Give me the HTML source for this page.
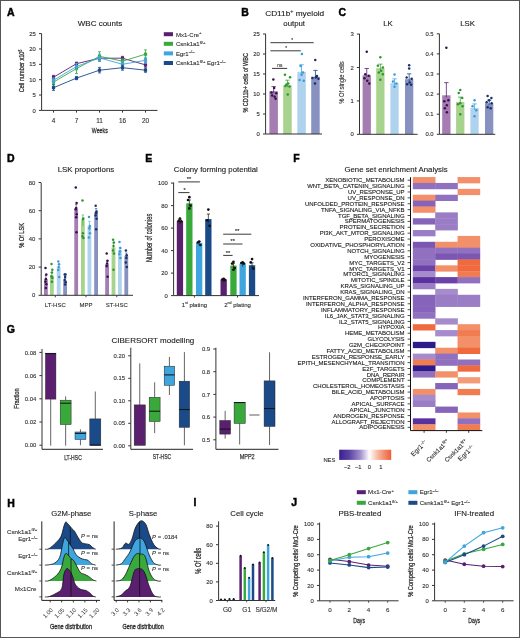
<!DOCTYPE html>
<html><head><meta charset="utf-8"><style>
html,body{margin:0;padding:0;background:#fff;}
svg{display:block;will-change:transform;}
text{font-family:"Liberation Sans", sans-serif;}
</style></head><body>
<svg width="520" height="638" viewBox="0 0 520 638">
<rect x="0" y="0" width="520" height="638" fill="#fff"/>
<text x="7" y="16.3" font-size="10.5" text-anchor="start" font-weight="bold" fill="#000" stroke="#000" stroke-width="0.45">A</text>
<text x="100" y="26.3" font-size="8" text-anchor="middle" font-weight="normal" fill="#222222" stroke="#222222" stroke-width="0.12">WBC counts</text>
<line x1="41.6" y1="33.6" x2="41.6" y2="110.4" stroke="#333333" stroke-width="1"/>
<line x1="39.0" y1="110.4" x2="41.6" y2="110.4" stroke="#333333" stroke-width="1"/>
<text x="35.8" y="112.524" font-size="5.9" text-anchor="end" font-weight="normal" fill="#333333" stroke="#333333" stroke-width="0.12">0</text>
<line x1="39.0" y1="95.04" x2="41.6" y2="95.04" stroke="#333333" stroke-width="1"/>
<text x="35.8" y="97.164" font-size="5.9" text-anchor="end" font-weight="normal" fill="#333333" stroke="#333333" stroke-width="0.12">5</text>
<line x1="39.0" y1="79.68" x2="41.6" y2="79.68" stroke="#333333" stroke-width="1"/>
<text x="35.8" y="81.804" font-size="5.9" text-anchor="end" font-weight="normal" fill="#333333" stroke="#333333" stroke-width="0.12">10</text>
<line x1="39.0" y1="64.32" x2="41.6" y2="64.32" stroke="#333333" stroke-width="1"/>
<text x="35.8" y="66.44399999999999" font-size="5.9" text-anchor="end" font-weight="normal" fill="#333333" stroke="#333333" stroke-width="0.12">15</text>
<line x1="39.0" y1="48.959999999999994" x2="41.6" y2="48.959999999999994" stroke="#333333" stroke-width="1"/>
<text x="35.8" y="51.083999999999996" font-size="5.9" text-anchor="end" font-weight="normal" fill="#333333" stroke="#333333" stroke-width="0.12">20</text>
<line x1="39.0" y1="33.599999999999994" x2="41.6" y2="33.599999999999994" stroke="#333333" stroke-width="1"/>
<text x="35.8" y="35.724" font-size="5.9" text-anchor="end" font-weight="normal" fill="#333333" stroke="#333333" stroke-width="0.12">25</text>
<line x1="41.6" y1="110.4" x2="157.5" y2="110.4" stroke="#333333" stroke-width="1"/>
<line x1="53.5" y1="110.4" x2="53.5" y2="112.60000000000001" stroke="#333333" stroke-width="1"/>
<text x="53.5" y="122.6" font-size="6.4" text-anchor="middle" font-weight="normal" fill="#333333" stroke="#333333" stroke-width="0.12">4</text>
<line x1="76.5" y1="110.4" x2="76.5" y2="112.60000000000001" stroke="#333333" stroke-width="1"/>
<text x="76.5" y="122.6" font-size="6.4" text-anchor="middle" font-weight="normal" fill="#333333" stroke="#333333" stroke-width="0.12">7</text>
<line x1="99.5" y1="110.4" x2="99.5" y2="112.60000000000001" stroke="#333333" stroke-width="1"/>
<text x="99.5" y="122.6" font-size="6.4" text-anchor="middle" font-weight="normal" fill="#333333" stroke="#333333" stroke-width="0.12">11</text>
<line x1="122.5" y1="110.4" x2="122.5" y2="112.60000000000001" stroke="#333333" stroke-width="1"/>
<text x="122.5" y="122.6" font-size="6.4" text-anchor="middle" font-weight="normal" fill="#333333" stroke="#333333" stroke-width="0.12">16</text>
<line x1="145.5" y1="110.4" x2="145.5" y2="112.60000000000001" stroke="#333333" stroke-width="1"/>
<text x="145.5" y="122.6" font-size="6.4" text-anchor="middle" font-weight="normal" fill="#333333" stroke="#333333" stroke-width="0.12">20</text>
<text x="99.8" y="132.8" font-size="7.4" text-anchor="middle" font-weight="normal" fill="#333" stroke="#333" stroke-width="0.3" textLength="16" lengthAdjust="spacingAndGlyphs">Weeks</text>
<text transform="translate(24.3,71.0) rotate(-90) scale(1.0,1)" x="0" y="0" font-size="8.0" text-anchor="middle" font-weight="normal" fill="#333" textLength="42.5" lengthAdjust="spacingAndGlyphs" stroke="#333" stroke-width="0.3">Cell number x10<tspan font-size="4.8" dy="-2.8">6</tspan></text>
<polyline points="53.5,77.2 76.5,63.7 99.5,58.2 122.5,58.2 145.5,64.9" fill="none" stroke="#5b1f70" stroke-width="0.9"/>
<line x1="53.5" y1="75.3792" x2="53.5" y2="79.06559999999999" stroke="#5b1f70" stroke-width="0.8"/>
<line x1="52.0" y1="75.3792" x2="55.0" y2="75.3792" stroke="#5b1f70" stroke-width="0.8"/>
<line x1="52.0" y1="79.06559999999999" x2="55.0" y2="79.06559999999999" stroke="#5b1f70" stroke-width="0.8"/>
<rect x="51.90" y="75.62" width="3.20" height="3.20" fill="#5b1f70" stroke="none" stroke-width="0"/>
<line x1="76.5" y1="62.169599999999996" x2="76.5" y2="65.24159999999999" stroke="#5b1f70" stroke-width="0.8"/>
<line x1="75.0" y1="62.169599999999996" x2="78.0" y2="62.169599999999996" stroke="#5b1f70" stroke-width="0.8"/>
<line x1="75.0" y1="65.24159999999999" x2="78.0" y2="65.24159999999999" stroke="#5b1f70" stroke-width="0.8"/>
<rect x="74.90" y="62.11" width="3.20" height="3.20" fill="#5b1f70" stroke="none" stroke-width="0"/>
<line x1="99.5" y1="55.411199999999994" x2="99.5" y2="60.940799999999996" stroke="#5b1f70" stroke-width="0.8"/>
<line x1="98.0" y1="55.411199999999994" x2="101.0" y2="55.411199999999994" stroke="#5b1f70" stroke-width="0.8"/>
<line x1="98.0" y1="60.940799999999996" x2="101.0" y2="60.940799999999996" stroke="#5b1f70" stroke-width="0.8"/>
<rect x="97.90" y="56.58" width="3.20" height="3.20" fill="#5b1f70" stroke="none" stroke-width="0"/>
<line x1="122.5" y1="56.33279999999999" x2="122.5" y2="60.0192" stroke="#5b1f70" stroke-width="0.8"/>
<line x1="121.0" y1="56.33279999999999" x2="124.0" y2="56.33279999999999" stroke="#5b1f70" stroke-width="0.8"/>
<line x1="121.0" y1="60.0192" x2="124.0" y2="60.0192" stroke="#5b1f70" stroke-width="0.8"/>
<rect x="120.90" y="56.58" width="3.20" height="3.20" fill="#5b1f70" stroke="none" stroke-width="0"/>
<line x1="145.5" y1="62.784" x2="145.5" y2="67.0848" stroke="#5b1f70" stroke-width="0.8"/>
<line x1="144.0" y1="62.784" x2="147.0" y2="62.784" stroke="#5b1f70" stroke-width="0.8"/>
<line x1="144.0" y1="67.0848" x2="147.0" y2="67.0848" stroke="#5b1f70" stroke-width="0.8"/>
<rect x="143.90" y="63.33" width="3.20" height="3.20" fill="#5b1f70" stroke="none" stroke-width="0"/>
<polyline points="53.5,82.1 76.5,68.6 99.5,56.3 122.5,61.2 145.5,54.2" fill="none" stroke="#39a93c" stroke-width="0.9"/>
<line x1="53.5" y1="79.68" x2="53.5" y2="84.5952" stroke="#39a93c" stroke-width="0.8"/>
<line x1="52.0" y1="79.68" x2="55.0" y2="79.68" stroke="#39a93c" stroke-width="0.8"/>
<line x1="52.0" y1="84.5952" x2="55.0" y2="84.5952" stroke="#39a93c" stroke-width="0.8"/>
<rect x="51.90" y="80.54" width="3.20" height="3.20" fill="#39a93c" stroke="none" stroke-width="0"/>
<line x1="76.5" y1="63.705600000000004" x2="76.5" y2="73.536" stroke="#39a93c" stroke-width="0.8"/>
<line x1="75.0" y1="63.705600000000004" x2="78.0" y2="63.705600000000004" stroke="#39a93c" stroke-width="0.8"/>
<line x1="75.0" y1="73.536" x2="78.0" y2="73.536" stroke="#39a93c" stroke-width="0.8"/>
<rect x="74.90" y="67.02" width="3.20" height="3.20" fill="#39a93c" stroke="none" stroke-width="0"/>
<line x1="99.5" y1="51.72479999999999" x2="99.5" y2="60.940799999999996" stroke="#39a93c" stroke-width="0.8"/>
<line x1="98.0" y1="51.72479999999999" x2="101.0" y2="51.72479999999999" stroke="#39a93c" stroke-width="0.8"/>
<line x1="98.0" y1="60.940799999999996" x2="101.0" y2="60.940799999999996" stroke="#39a93c" stroke-width="0.8"/>
<rect x="97.90" y="54.73" width="3.20" height="3.20" fill="#39a93c" stroke="none" stroke-width="0"/>
<line x1="122.5" y1="58.7904" x2="122.5" y2="63.7056" stroke="#39a93c" stroke-width="0.8"/>
<line x1="121.0" y1="58.7904" x2="124.0" y2="58.7904" stroke="#39a93c" stroke-width="0.8"/>
<line x1="121.0" y1="63.7056" x2="124.0" y2="63.7056" stroke="#39a93c" stroke-width="0.8"/>
<rect x="120.90" y="59.65" width="3.20" height="3.20" fill="#39a93c" stroke="none" stroke-width="0"/>
<line x1="145.5" y1="49.88159999999999" x2="145.5" y2="58.4832" stroke="#39a93c" stroke-width="0.8"/>
<line x1="144.0" y1="49.88159999999999" x2="147.0" y2="49.88159999999999" stroke="#39a93c" stroke-width="0.8"/>
<line x1="144.0" y1="58.4832" x2="147.0" y2="58.4832" stroke="#39a93c" stroke-width="0.8"/>
<rect x="143.90" y="52.58" width="3.20" height="3.20" fill="#39a93c" stroke="none" stroke-width="0"/>
<polyline points="53.5,80.3 76.5,66.5 99.5,57.9 122.5,64.3 145.5,60.3" fill="none" stroke="#3ea5de" stroke-width="0.9"/>
<line x1="53.5" y1="77.8368" x2="53.5" y2="82.752" stroke="#3ea5de" stroke-width="0.8"/>
<line x1="52.0" y1="77.8368" x2="55.0" y2="77.8368" stroke="#3ea5de" stroke-width="0.8"/>
<line x1="52.0" y1="82.752" x2="55.0" y2="82.752" stroke="#3ea5de" stroke-width="0.8"/>
<rect x="51.90" y="78.69" width="3.20" height="3.20" fill="#3ea5de" stroke="none" stroke-width="0"/>
<line x1="76.5" y1="63.398399999999995" x2="76.5" y2="69.5424" stroke="#3ea5de" stroke-width="0.8"/>
<line x1="75.0" y1="63.398399999999995" x2="78.0" y2="63.398399999999995" stroke="#3ea5de" stroke-width="0.8"/>
<line x1="75.0" y1="69.5424" x2="78.0" y2="69.5424" stroke="#3ea5de" stroke-width="0.8"/>
<rect x="74.90" y="64.87" width="3.20" height="3.20" fill="#3ea5de" stroke="none" stroke-width="0"/>
<line x1="99.5" y1="54.182399999999994" x2="99.5" y2="61.55519999999999" stroke="#3ea5de" stroke-width="0.8"/>
<line x1="98.0" y1="54.182399999999994" x2="101.0" y2="54.182399999999994" stroke="#3ea5de" stroke-width="0.8"/>
<line x1="98.0" y1="61.55519999999999" x2="101.0" y2="61.55519999999999" stroke="#3ea5de" stroke-width="0.8"/>
<rect x="97.90" y="56.27" width="3.20" height="3.20" fill="#3ea5de" stroke="none" stroke-width="0"/>
<line x1="122.5" y1="61.24799999999999" x2="122.5" y2="67.392" stroke="#3ea5de" stroke-width="0.8"/>
<line x1="121.0" y1="61.24799999999999" x2="124.0" y2="61.24799999999999" stroke="#3ea5de" stroke-width="0.8"/>
<line x1="121.0" y1="67.392" x2="124.0" y2="67.392" stroke="#3ea5de" stroke-width="0.8"/>
<rect x="120.90" y="62.72" width="3.20" height="3.20" fill="#3ea5de" stroke="none" stroke-width="0"/>
<line x1="145.5" y1="57.25439999999999" x2="145.5" y2="63.398399999999995" stroke="#3ea5de" stroke-width="0.8"/>
<line x1="144.0" y1="57.25439999999999" x2="147.0" y2="57.25439999999999" stroke="#3ea5de" stroke-width="0.8"/>
<line x1="144.0" y1="63.398399999999995" x2="147.0" y2="63.398399999999995" stroke="#3ea5de" stroke-width="0.8"/>
<rect x="143.90" y="58.73" width="3.20" height="3.20" fill="#3ea5de" stroke="none" stroke-width="0"/>
<polyline points="53.5,87.7 76.5,78.1 99.5,70.2 122.5,67.7 145.5,70.2" fill="none" stroke="#1b4a88" stroke-width="0.9"/>
<line x1="53.5" y1="84.90240000000001" x2="53.5" y2="90.432" stroke="#1b4a88" stroke-width="0.8"/>
<line x1="52.0" y1="84.90240000000001" x2="55.0" y2="84.90240000000001" stroke="#1b4a88" stroke-width="0.8"/>
<line x1="52.0" y1="90.432" x2="55.0" y2="90.432" stroke="#1b4a88" stroke-width="0.8"/>
<rect x="51.90" y="86.07" width="3.20" height="3.20" fill="#1b4a88" stroke="none" stroke-width="0"/>
<line x1="76.5" y1="76.608" x2="76.5" y2="79.68" stroke="#1b4a88" stroke-width="0.8"/>
<line x1="75.0" y1="76.608" x2="78.0" y2="76.608" stroke="#1b4a88" stroke-width="0.8"/>
<line x1="75.0" y1="79.68" x2="78.0" y2="79.68" stroke="#1b4a88" stroke-width="0.8"/>
<rect x="74.90" y="76.54" width="3.20" height="3.20" fill="#1b4a88" stroke="none" stroke-width="0"/>
<line x1="99.5" y1="67.39200000000001" x2="99.5" y2="72.9216" stroke="#1b4a88" stroke-width="0.8"/>
<line x1="98.0" y1="67.39200000000001" x2="101.0" y2="67.39200000000001" stroke="#1b4a88" stroke-width="0.8"/>
<line x1="98.0" y1="72.9216" x2="101.0" y2="72.9216" stroke="#1b4a88" stroke-width="0.8"/>
<rect x="97.90" y="68.56" width="3.20" height="3.20" fill="#1b4a88" stroke="none" stroke-width="0"/>
<line x1="122.5" y1="65.24159999999999" x2="122.5" y2="70.15679999999999" stroke="#1b4a88" stroke-width="0.8"/>
<line x1="121.0" y1="65.24159999999999" x2="124.0" y2="65.24159999999999" stroke="#1b4a88" stroke-width="0.8"/>
<line x1="121.0" y1="70.15679999999999" x2="124.0" y2="70.15679999999999" stroke="#1b4a88" stroke-width="0.8"/>
<rect x="120.90" y="66.10" width="3.20" height="3.20" fill="#1b4a88" stroke="none" stroke-width="0"/>
<line x1="145.5" y1="68.0064" x2="145.5" y2="72.30720000000001" stroke="#1b4a88" stroke-width="0.8"/>
<line x1="144.0" y1="68.0064" x2="147.0" y2="68.0064" stroke="#1b4a88" stroke-width="0.8"/>
<line x1="144.0" y1="72.30720000000001" x2="147.0" y2="72.30720000000001" stroke="#1b4a88" stroke-width="0.8"/>
<rect x="143.90" y="68.56" width="3.20" height="3.20" fill="#1b4a88" stroke="none" stroke-width="0"/>
<rect x="163.80" y="32.20" width="9.20" height="4.00" fill="#5b1f70" stroke="none" stroke-width="0"/>
<text x="176" y="36.5" font-size="6.0" text-anchor="start" font-weight="normal" fill="#333" stroke="#333" stroke-width="0.12">Mx1-Cre<tspan font-size="4.2" dy="-2.3">+</tspan></text>
<rect x="163.80" y="41.80" width="9.20" height="4.00" fill="#39a93c" stroke="none" stroke-width="0"/>
<text x="176" y="46.1" font-size="6.0" text-anchor="start" font-weight="normal" fill="#333" stroke="#333" stroke-width="0.12">Csnk1a1<tspan font-size="4.2" dy="-2.3">fl/+</tspan></text>
<rect x="163.80" y="51.40" width="9.20" height="4.00" fill="#3ea5de" stroke="none" stroke-width="0"/>
<text x="176" y="55.7" font-size="6.0" text-anchor="start" font-weight="normal" fill="#333" stroke="#333" stroke-width="0.12">Egr1<tspan font-size="4.2" dy="-2.3">&#8211;/&#8211;</tspan></text>
<rect x="163.80" y="61.00" width="9.20" height="4.00" fill="#1b4a88" stroke="none" stroke-width="0"/>
<text x="176" y="65.3" font-size="6.0" text-anchor="start" font-weight="normal" fill="#333" stroke="#333" stroke-width="0.12">Csnk1a1<tspan font-size="4.2" dy="-2.3">fl/+</tspan><tspan dy="2.3"> Egr1</tspan><tspan font-size="4.2" dy="-2.3">&#8211;/&#8211;</tspan></text>
<text x="241.3" y="16.3" font-size="10.5" text-anchor="start" font-weight="bold" fill="#000" stroke="#000" stroke-width="0.45">B</text>
<text x="294.7" y="16.3" font-size="7.9" text-anchor="middle" font-weight="normal" fill="#222222" textLength="59" lengthAdjust="spacingAndGlyphs" stroke="#222222" stroke-width="0.12">CD11b<tspan font-size="5.2" dy="-2.8">+</tspan><tspan dy="2.8"> myeloid</tspan></text>
<text x="294.2" y="26.3" font-size="7.8" text-anchor="middle" font-weight="normal" fill="#222222" stroke="#222222" stroke-width="0.12">output</text>
<line x1="265.6" y1="33.8" x2="265.6" y2="134.0" stroke="#333333" stroke-width="1"/>
<line x1="263.0" y1="134.0" x2="265.6" y2="134.0" stroke="#333333" stroke-width="1"/>
<text x="259.8" y="136.124" font-size="5.9" text-anchor="end" font-weight="normal" fill="#333333" stroke="#333333" stroke-width="0.12">0</text>
<line x1="263.0" y1="114.0" x2="265.6" y2="114.0" stroke="#333333" stroke-width="1"/>
<text x="259.8" y="116.124" font-size="5.9" text-anchor="end" font-weight="normal" fill="#333333" stroke="#333333" stroke-width="0.12">5</text>
<line x1="263.0" y1="94.0" x2="265.6" y2="94.0" stroke="#333333" stroke-width="1"/>
<text x="259.8" y="96.124" font-size="5.9" text-anchor="end" font-weight="normal" fill="#333333" stroke="#333333" stroke-width="0.12">10</text>
<line x1="263.0" y1="74.0" x2="265.6" y2="74.0" stroke="#333333" stroke-width="1"/>
<text x="259.8" y="76.124" font-size="5.9" text-anchor="end" font-weight="normal" fill="#333333" stroke="#333333" stroke-width="0.12">15</text>
<line x1="263.0" y1="54.0" x2="265.6" y2="54.0" stroke="#333333" stroke-width="1"/>
<text x="259.8" y="56.124" font-size="5.9" text-anchor="end" font-weight="normal" fill="#333333" stroke="#333333" stroke-width="0.12">20</text>
<line x1="263.0" y1="34.0" x2="265.6" y2="34.0" stroke="#333333" stroke-width="1"/>
<text x="259.8" y="36.124" font-size="5.9" text-anchor="end" font-weight="normal" fill="#333333" stroke="#333333" stroke-width="0.12">25</text>
<text transform="translate(248.4,82.8) rotate(-90) scale(1.0,1)" x="0" y="0" font-size="7.2" text-anchor="middle" font-weight="normal" fill="#333" textLength="59.6" lengthAdjust="spacingAndGlyphs" stroke="#333" stroke-width="0.3">% CD11b+ cells of WBC</text>
<rect x="269.40" y="91.20" width="8.50" height="42.80" fill="#a57db2" stroke="none" stroke-width="0"/>
<line x1="273.65" y1="86.6" x2="273.65" y2="93.2" stroke="#5b1f70" stroke-width="0.8"/>
<line x1="271.45" y1="86.6" x2="275.84999999999997" y2="86.6" stroke="#5b1f70" stroke-width="0.8"/>
<circle cx="273.35" cy="79.60" r="1.25" fill="#35104a"/>
<circle cx="274.15" cy="88.00" r="1.25" fill="#35104a"/>
<circle cx="271.45" cy="92.40" r="1.25" fill="#35104a"/>
<circle cx="276.25" cy="93.20" r="1.25" fill="#35104a"/>
<circle cx="274.65" cy="96.80" r="1.25" fill="#35104a"/>
<circle cx="272.15" cy="95.60" r="1.25" fill="#35104a"/>
<circle cx="275.65" cy="98.80" r="1.25" fill="#35104a"/>
<rect x="283.20" y="85.20" width="8.50" height="48.80" fill="#a8d38e" stroke="none" stroke-width="0"/>
<line x1="287.45" y1="80.2" x2="287.45" y2="87.2" stroke="#39a93c" stroke-width="0.8"/>
<line x1="285.25" y1="80.2" x2="289.65" y2="80.2" stroke="#39a93c" stroke-width="0.8"/>
<circle cx="284.95" cy="74.80" r="1.25" fill="#2f952f"/>
<circle cx="290.05" cy="77.20" r="1.25" fill="#2f952f"/>
<circle cx="286.45" cy="84.40" r="1.25" fill="#2f952f"/>
<circle cx="288.25" cy="83.60" r="1.25" fill="#2f952f"/>
<circle cx="289.45" cy="86.40" r="1.25" fill="#2f952f"/>
<circle cx="285.45" cy="86.00" r="1.25" fill="#2f952f"/>
<circle cx="287.75" cy="94.40" r="1.25" fill="#2f952f"/>
<rect x="297.30" y="71.80" width="8.50" height="62.20" fill="#afd3ee" stroke="none" stroke-width="0"/>
<line x1="301.55" y1="64.8" x2="301.55" y2="73.8" stroke="#3ea5de" stroke-width="0.8"/>
<line x1="299.35" y1="64.8" x2="303.75" y2="64.8" stroke="#3ea5de" stroke-width="0.8"/>
<circle cx="301.85" cy="54.00" r="1.25" fill="#3a9bd6"/>
<circle cx="300.55" cy="66.00" r="1.25" fill="#3a9bd6"/>
<circle cx="303.05" cy="72.40" r="1.25" fill="#3a9bd6"/>
<circle cx="299.55" cy="80.00" r="1.25" fill="#3a9bd6"/>
<circle cx="303.75" cy="80.80" r="1.25" fill="#3a9bd6"/>
<circle cx="301.55" cy="74.80" r="1.25" fill="#3a9bd6"/>
<rect x="311.20" y="76.80" width="8.50" height="57.20" fill="#8892c0" stroke="none" stroke-width="0"/>
<line x1="315.45" y1="70.4" x2="315.45" y2="78.8" stroke="#1b4a88" stroke-width="0.8"/>
<line x1="313.25" y1="70.4" x2="317.65" y2="70.4" stroke="#1b4a88" stroke-width="0.8"/>
<circle cx="315.25" cy="60.00" r="1.25" fill="#182f6a"/>
<circle cx="312.45" cy="78.00" r="1.25" fill="#182f6a"/>
<circle cx="318.45" cy="78.80" r="1.25" fill="#182f6a"/>
<circle cx="315.95" cy="77.20" r="1.25" fill="#182f6a"/>
<circle cx="314.95" cy="83.60" r="1.25" fill="#182f6a"/>
<circle cx="316.95" cy="76.00" r="1.25" fill="#182f6a"/>
<line x1="265.6" y1="134.0" x2="322.0" y2="134.0" stroke="#333333" stroke-width="1"/>
<line x1="270.4" y1="42.7" x2="313.7" y2="42.7" stroke="#3a3a3a" stroke-width="1.0"/>
<text x="292.2" y="41.5" font-size="4.8" text-anchor="middle" font-weight="normal" fill="#333" stroke="#333" stroke-width="0.12">*</text>
<line x1="270.4" y1="50.8" x2="300.8" y2="50.8" stroke="#3a3a3a" stroke-width="1.0"/>
<text x="286.2" y="49.6" font-size="4.8" text-anchor="middle" font-weight="normal" fill="#333" stroke="#333" stroke-width="0.12">*</text>
<line x1="272.0" y1="68.4" x2="287.2" y2="68.4" stroke="#3a3a3a" stroke-width="1.0"/>
<text x="279.8" y="66.6" font-size="4.8" text-anchor="middle" font-weight="normal" fill="#333" stroke="#333" stroke-width="0.12">ns</text>
<text x="338.6" y="16.3" font-size="10.5" text-anchor="start" font-weight="bold" fill="#000" stroke="#000" stroke-width="0.45">C</text>
<text x="388.0" y="26.3" font-size="7.8" text-anchor="middle" font-weight="normal" fill="#222222" stroke="#222222" stroke-width="0.12">LK</text>
<text x="467.5" y="26.3" font-size="7.8" text-anchor="middle" font-weight="normal" fill="#222222" stroke="#222222" stroke-width="0.12">LSK</text>
<text transform="translate(344.2,82.6) rotate(-90) scale(1.0,1)" x="0" y="0" font-size="6.4" text-anchor="middle" font-weight="normal" fill="#333" textLength="42.3" lengthAdjust="spacingAndGlyphs" stroke="#333" stroke-width="0.12">% Of single cells</text>
<line x1="359.5" y1="33.8" x2="359.5" y2="134.3" stroke="#333333" stroke-width="1"/>
<line x1="356.9" y1="134.3" x2="359.5" y2="134.3" stroke="#333333" stroke-width="1"/>
<text x="353.7" y="136.424" font-size="5.9" text-anchor="end" font-weight="normal" fill="#333333" stroke="#333333" stroke-width="0.12">0</text>
<line x1="356.9" y1="100.9" x2="359.5" y2="100.9" stroke="#333333" stroke-width="1"/>
<text x="353.7" y="103.024" font-size="5.9" text-anchor="end" font-weight="normal" fill="#333333" stroke="#333333" stroke-width="0.12">1</text>
<line x1="356.9" y1="67.50000000000001" x2="359.5" y2="67.50000000000001" stroke="#333333" stroke-width="1"/>
<text x="353.7" y="69.62400000000001" font-size="5.9" text-anchor="end" font-weight="normal" fill="#333333" stroke="#333333" stroke-width="0.12">2</text>
<line x1="356.9" y1="34.10000000000002" x2="359.5" y2="34.10000000000002" stroke="#333333" stroke-width="1"/>
<text x="353.7" y="36.224000000000025" font-size="5.9" text-anchor="end" font-weight="normal" fill="#333333" stroke="#333333" stroke-width="0.12">3</text>
<rect x="362.60" y="75.18" width="8.30" height="59.12" fill="#a57db2" stroke="none" stroke-width="0"/>
<line x1="366.75" y1="68.50200000000001" x2="366.75" y2="77.18200000000002" stroke="#5b1f70" stroke-width="0.8"/>
<line x1="364.55" y1="68.50200000000001" x2="368.95" y2="68.50200000000001" stroke="#5b1f70" stroke-width="0.8"/>
<circle cx="366.75" cy="51.80" r="1.25" fill="#35104a"/>
<circle cx="365.25" cy="74.18" r="1.25" fill="#35104a"/>
<circle cx="368.75" cy="75.85" r="1.25" fill="#35104a"/>
<circle cx="367.25" cy="80.86" r="1.25" fill="#35104a"/>
<circle cx="364.45" cy="78.19" r="1.25" fill="#35104a"/>
<circle cx="369.25" cy="83.53" r="1.25" fill="#35104a"/>
<rect x="376.20" y="68.17" width="8.30" height="66.13" fill="#a8d38e" stroke="none" stroke-width="0"/>
<line x1="380.34999999999997" y1="64.16000000000001" x2="380.34999999999997" y2="70.16800000000002" stroke="#39a93c" stroke-width="0.8"/>
<line x1="378.15" y1="64.16000000000001" x2="382.54999999999995" y2="64.16000000000001" stroke="#39a93c" stroke-width="0.8"/>
<circle cx="380.35" cy="57.15" r="1.25" fill="#2f952f"/>
<circle cx="377.85" cy="65.83" r="1.25" fill="#2f952f"/>
<circle cx="382.85" cy="67.50" r="1.25" fill="#2f952f"/>
<circle cx="381.15" cy="70.84" r="1.25" fill="#2f952f"/>
<circle cx="378.85" cy="72.51" r="1.25" fill="#2f952f"/>
<circle cx="382.85" cy="74.18" r="1.25" fill="#2f952f"/>
<circle cx="380.35" cy="79.86" r="1.25" fill="#2f952f"/>
<rect x="390.40" y="83.20" width="8.30" height="51.10" fill="#afd3ee" stroke="none" stroke-width="0"/>
<line x1="394.54999999999995" y1="78.85600000000001" x2="394.54999999999995" y2="85.19800000000001" stroke="#3ea5de" stroke-width="0.8"/>
<line x1="392.34999999999997" y1="78.85600000000001" x2="396.74999999999994" y2="78.85600000000001" stroke="#3ea5de" stroke-width="0.8"/>
<circle cx="394.55" cy="74.51" r="1.25" fill="#3a9bd6"/>
<circle cx="392.95" cy="81.53" r="1.25" fill="#3a9bd6"/>
<circle cx="396.35" cy="83.53" r="1.25" fill="#3a9bd6"/>
<circle cx="394.55" cy="86.87" r="1.25" fill="#3a9bd6"/>
<rect x="405.00" y="79.19" width="8.30" height="55.11" fill="#8892c0" stroke="none" stroke-width="0"/>
<line x1="409.15" y1="73.84600000000002" x2="409.15" y2="81.19000000000003" stroke="#1b4a88" stroke-width="0.8"/>
<line x1="406.95" y1="73.84600000000002" x2="411.34999999999997" y2="73.84600000000002" stroke="#1b4a88" stroke-width="0.8"/>
<circle cx="409.15" cy="65.16" r="1.25" fill="#182f6a"/>
<circle cx="409.15" cy="68.50" r="1.25" fill="#182f6a"/>
<circle cx="406.65" cy="77.52" r="1.25" fill="#182f6a"/>
<circle cx="411.65" cy="78.86" r="1.25" fill="#182f6a"/>
<circle cx="409.65" cy="82.53" r="1.25" fill="#182f6a"/>
<circle cx="407.15" cy="84.20" r="1.25" fill="#182f6a"/>
<circle cx="411.15" cy="84.87" r="1.25" fill="#182f6a"/>
<line x1="359.5" y1="134.3" x2="417.6" y2="134.3" stroke="#333333" stroke-width="1"/>
<line x1="439.4" y1="33.8" x2="439.4" y2="134.3" stroke="#333333" stroke-width="1"/>
<line x1="436.79999999999995" y1="134.3" x2="439.4" y2="134.3" stroke="#333333" stroke-width="1"/>
<text x="433.59999999999997" y="136.424" font-size="5.9" text-anchor="end" font-weight="normal" fill="#333333" stroke="#333333" stroke-width="0.12">0.0</text>
<line x1="436.79999999999995" y1="114.20000000000002" x2="439.4" y2="114.20000000000002" stroke="#333333" stroke-width="1"/>
<text x="433.59999999999997" y="116.32400000000001" font-size="5.9" text-anchor="end" font-weight="normal" fill="#333333" stroke="#333333" stroke-width="0.12">0.1</text>
<line x1="436.79999999999995" y1="94.10000000000001" x2="439.4" y2="94.10000000000001" stroke="#333333" stroke-width="1"/>
<text x="433.59999999999997" y="96.224" font-size="5.9" text-anchor="end" font-weight="normal" fill="#333333" stroke="#333333" stroke-width="0.12">0.2</text>
<line x1="436.79999999999995" y1="74.00000000000001" x2="439.4" y2="74.00000000000001" stroke="#333333" stroke-width="1"/>
<text x="433.59999999999997" y="76.12400000000001" font-size="5.9" text-anchor="end" font-weight="normal" fill="#333333" stroke="#333333" stroke-width="0.12">0.3</text>
<line x1="436.79999999999995" y1="53.900000000000006" x2="439.4" y2="53.900000000000006" stroke="#333333" stroke-width="1"/>
<text x="433.59999999999997" y="56.02400000000001" font-size="5.9" text-anchor="end" font-weight="normal" fill="#333333" stroke="#333333" stroke-width="0.12">0.4</text>
<line x1="436.79999999999995" y1="33.80000000000001" x2="439.4" y2="33.80000000000001" stroke="#333333" stroke-width="1"/>
<text x="433.59999999999997" y="35.924000000000014" font-size="5.9" text-anchor="end" font-weight="normal" fill="#333333" stroke="#333333" stroke-width="0.12">0.5</text>
<rect x="442.20" y="95.31" width="8.30" height="38.99" fill="#a57db2" stroke="none" stroke-width="0"/>
<line x1="446.34999999999997" y1="82.643" x2="446.34999999999997" y2="97.30600000000001" stroke="#5b1f70" stroke-width="0.8"/>
<line x1="444.15" y1="82.643" x2="448.54999999999995" y2="82.643" stroke="#5b1f70" stroke-width="0.8"/>
<circle cx="446.35" cy="47.87" r="1.25" fill="#35104a"/>
<circle cx="444.35" cy="101.14" r="1.25" fill="#35104a"/>
<circle cx="448.35" cy="100.13" r="1.25" fill="#35104a"/>
<circle cx="446.85" cy="105.16" r="1.25" fill="#35104a"/>
<circle cx="444.85" cy="108.17" r="1.25" fill="#35104a"/>
<circle cx="446.85" cy="112.19" r="1.25" fill="#35104a"/>
<rect x="456.10" y="101.94" width="8.30" height="32.36" fill="#a8d38e" stroke="none" stroke-width="0"/>
<line x1="460.25" y1="97.11500000000001" x2="460.25" y2="103.93900000000001" stroke="#39a93c" stroke-width="0.8"/>
<line x1="458.05" y1="97.11500000000001" x2="462.45" y2="97.11500000000001" stroke="#39a93c" stroke-width="0.8"/>
<circle cx="460.25" cy="90.08" r="1.25" fill="#2f952f"/>
<circle cx="458.75" cy="93.10" r="1.25" fill="#2f952f"/>
<circle cx="462.25" cy="98.12" r="1.25" fill="#2f952f"/>
<circle cx="460.25" cy="103.15" r="1.25" fill="#2f952f"/>
<circle cx="457.95" cy="104.15" r="1.25" fill="#2f952f"/>
<circle cx="462.55" cy="106.16" r="1.25" fill="#2f952f"/>
<circle cx="460.25" cy="114.20" r="1.25" fill="#2f952f"/>
<rect x="470.40" y="107.97" width="8.30" height="26.33" fill="#afd3ee" stroke="none" stroke-width="0"/>
<line x1="474.54999999999995" y1="103.94900000000001" x2="474.54999999999995" y2="109.96900000000001" stroke="#3ea5de" stroke-width="0.8"/>
<line x1="472.34999999999997" y1="103.94900000000001" x2="476.74999999999994" y2="103.94900000000001" stroke="#3ea5de" stroke-width="0.8"/>
<circle cx="474.55" cy="100.13" r="1.25" fill="#3a9bd6"/>
<circle cx="472.55" cy="106.16" r="1.25" fill="#3a9bd6"/>
<circle cx="476.35" cy="110.18" r="1.25" fill="#3a9bd6"/>
<circle cx="474.55" cy="116.21" r="1.25" fill="#3a9bd6"/>
<rect x="485.00" y="103.35" width="8.30" height="30.95" fill="#8892c0" stroke="none" stroke-width="0"/>
<line x1="489.15" y1="100.13000000000002" x2="489.15" y2="105.346" stroke="#1b4a88" stroke-width="0.8"/>
<line x1="486.95" y1="100.13000000000002" x2="491.34999999999997" y2="100.13000000000002" stroke="#1b4a88" stroke-width="0.8"/>
<circle cx="487.65" cy="96.11" r="1.25" fill="#182f6a"/>
<circle cx="491.35" cy="98.12" r="1.25" fill="#182f6a"/>
<circle cx="489.15" cy="100.13" r="1.25" fill="#182f6a"/>
<circle cx="486.65" cy="102.14" r="1.25" fill="#182f6a"/>
<circle cx="491.65" cy="103.15" r="1.25" fill="#182f6a"/>
<circle cx="487.65" cy="107.17" r="1.25" fill="#182f6a"/>
<circle cx="490.65" cy="108.17" r="1.25" fill="#182f6a"/>
<line x1="439.4" y1="134.3" x2="495.3" y2="134.3" stroke="#333333" stroke-width="1"/>
<text x="7" y="162.3" font-size="10.5" text-anchor="start" font-weight="bold" fill="#000" stroke="#000" stroke-width="0.45">D</text>
<text x="86.0" y="171.5" font-size="7.9" text-anchor="middle" font-weight="normal" fill="#222222" stroke="#222222" stroke-width="0.12">LSK proportions</text>
<line x1="41.2" y1="183.0" x2="41.2" y2="295.3" stroke="#333333" stroke-width="1"/>
<line x1="38.6" y1="295.3" x2="41.2" y2="295.3" stroke="#333333" stroke-width="1"/>
<text x="35.4" y="297.42400000000004" font-size="5.9" text-anchor="end" font-weight="normal" fill="#333333" stroke="#333333" stroke-width="0.12">0</text>
<line x1="38.6" y1="267.1" x2="41.2" y2="267.1" stroke="#333333" stroke-width="1"/>
<text x="35.4" y="269.22400000000005" font-size="5.9" text-anchor="end" font-weight="normal" fill="#333333" stroke="#333333" stroke-width="0.12">20</text>
<line x1="38.6" y1="238.9" x2="41.2" y2="238.9" stroke="#333333" stroke-width="1"/>
<text x="35.4" y="241.024" font-size="5.9" text-anchor="end" font-weight="normal" fill="#333333" stroke="#333333" stroke-width="0.12">40</text>
<line x1="38.6" y1="210.70000000000002" x2="41.2" y2="210.70000000000002" stroke="#333333" stroke-width="1"/>
<text x="35.4" y="212.824" font-size="5.9" text-anchor="end" font-weight="normal" fill="#333333" stroke="#333333" stroke-width="0.12">60</text>
<line x1="38.6" y1="182.5" x2="41.2" y2="182.5" stroke="#333333" stroke-width="1"/>
<text x="35.4" y="184.624" font-size="5.9" text-anchor="end" font-weight="normal" fill="#333333" stroke="#333333" stroke-width="0.12">80</text>
<text transform="translate(23.9,235.4) rotate(-90) scale(1.0,1)" x="0" y="0" font-size="7.2" text-anchor="middle" font-weight="normal" fill="#333" textLength="24.8" lengthAdjust="spacingAndGlyphs" stroke="#333" stroke-width="0.3">% Of LSK</text>
<rect x="44.00" y="279.09" width="3.80" height="16.21" fill="#a57db2" stroke="none" stroke-width="0"/>
<line x1="45.9" y1="275.56" x2="45.9" y2="282.61" stroke="#5b1f70" stroke-width="0.6"/>
<line x1="44.699999999999996" y1="275.56" x2="47.1" y2="275.56" stroke="#5b1f70" stroke-width="0.6"/>
<circle cx="45.50" cy="267.95" r="1.25" fill="#35104a"/>
<circle cx="46.30" cy="274.43" r="1.25" fill="#35104a"/>
<circle cx="45.90" cy="278.94" r="1.25" fill="#35104a"/>
<circle cx="45.40" cy="281.76" r="1.25" fill="#35104a"/>
<circle cx="46.40" cy="284.16" r="1.25" fill="#35104a"/>
<circle cx="45.90" cy="288.11" r="1.25" fill="#35104a"/>
<rect x="50.00" y="275.56" width="3.80" height="19.74" fill="#a8d38e" stroke="none" stroke-width="0"/>
<line x1="51.9" y1="272.74" x2="51.9" y2="278.38" stroke="#39a93c" stroke-width="0.6"/>
<line x1="50.699999999999996" y1="272.74" x2="53.1" y2="272.74" stroke="#39a93c" stroke-width="0.6"/>
<circle cx="51.50" cy="264.00" r="1.25" fill="#2f952f"/>
<circle cx="52.30" cy="269.78" r="1.25" fill="#2f952f"/>
<circle cx="51.90" cy="272.46" r="1.25" fill="#2f952f"/>
<circle cx="51.40" cy="276.26" r="1.25" fill="#2f952f"/>
<circle cx="52.40" cy="277.96" r="1.25" fill="#2f952f"/>
<circle cx="51.90" cy="281.76" r="1.25" fill="#2f952f"/>
<rect x="56.80" y="267.10" width="3.80" height="28.20" fill="#afd3ee" stroke="none" stroke-width="0"/>
<line x1="58.699999999999996" y1="264.28000000000003" x2="58.699999999999996" y2="269.92" stroke="#3ea5de" stroke-width="0.6"/>
<line x1="57.49999999999999" y1="264.28000000000003" x2="59.9" y2="264.28000000000003" stroke="#3ea5de" stroke-width="0.6"/>
<circle cx="58.30" cy="261.60" r="1.25" fill="#3a9bd6"/>
<circle cx="59.10" cy="264.28" r="1.25" fill="#3a9bd6"/>
<circle cx="58.70" cy="267.10" r="1.25" fill="#3a9bd6"/>
<circle cx="58.20" cy="270.06" r="1.25" fill="#3a9bd6"/>
<circle cx="59.20" cy="277.11" r="1.25" fill="#3a9bd6"/>
<rect x="63.20" y="280.50" width="3.80" height="14.81" fill="#8892c0" stroke="none" stroke-width="0"/>
<line x1="65.10000000000001" y1="278.38" x2="65.10000000000001" y2="282.61" stroke="#1b4a88" stroke-width="0.6"/>
<line x1="63.900000000000006" y1="278.38" x2="66.30000000000001" y2="278.38" stroke="#1b4a88" stroke-width="0.6"/>
<circle cx="64.70" cy="274.43" r="1.25" fill="#182f6a"/>
<circle cx="65.50" cy="274.43" r="1.25" fill="#182f6a"/>
<circle cx="65.10" cy="277.11" r="1.25" fill="#182f6a"/>
<circle cx="64.60" cy="279.93" r="1.25" fill="#182f6a"/>
<circle cx="65.60" cy="282.19" r="1.25" fill="#182f6a"/>
<circle cx="65.10" cy="284.44" r="1.25" fill="#182f6a"/>
<rect x="74.30" y="208.59" width="3.80" height="86.71" fill="#a57db2" stroke="none" stroke-width="0"/>
<line x1="76.2" y1="204.35500000000002" x2="76.2" y2="212.815" stroke="#5b1f70" stroke-width="0.6"/>
<line x1="75.0" y1="204.35500000000002" x2="77.4" y2="204.35500000000002" stroke="#5b1f70" stroke-width="0.6"/>
<circle cx="75.80" cy="187.58" r="1.25" fill="#35104a"/>
<circle cx="76.60" cy="203.09" r="1.25" fill="#35104a"/>
<circle cx="76.20" cy="208.02" r="1.25" fill="#35104a"/>
<circle cx="75.70" cy="209.15" r="1.25" fill="#35104a"/>
<circle cx="76.70" cy="214.37" r="1.25" fill="#35104a"/>
<circle cx="76.20" cy="217.19" r="1.25" fill="#35104a"/>
<circle cx="76.50" cy="232.27" r="1.25" fill="#35104a"/>
<rect x="81.00" y="220.57" width="3.80" height="74.73" fill="#a8d38e" stroke="none" stroke-width="0"/>
<line x1="82.9" y1="214.93" x2="82.9" y2="226.21000000000004" stroke="#39a93c" stroke-width="0.6"/>
<line x1="81.7" y1="214.93" x2="84.10000000000001" y2="214.93" stroke="#39a93c" stroke-width="0.6"/>
<circle cx="82.50" cy="200.55" r="1.25" fill="#2f952f"/>
<circle cx="83.30" cy="218.46" r="1.25" fill="#2f952f"/>
<circle cx="82.90" cy="219.58" r="1.25" fill="#2f952f"/>
<circle cx="82.40" cy="236.36" r="1.25" fill="#2f952f"/>
<circle cx="83.40" cy="238.05" r="1.25" fill="#2f952f"/>
<circle cx="82.90" cy="233.26" r="1.25" fill="#2f952f"/>
<rect x="87.50" y="226.21" width="3.80" height="69.09" fill="#afd3ee" stroke="none" stroke-width="0"/>
<line x1="89.4" y1="221.27500000000003" x2="89.4" y2="231.145" stroke="#3ea5de" stroke-width="0.6"/>
<line x1="88.2" y1="221.27500000000003" x2="90.60000000000001" y2="221.27500000000003" stroke="#3ea5de" stroke-width="0.6"/>
<circle cx="89.00" cy="216.90" r="1.25" fill="#3a9bd6"/>
<circle cx="89.80" cy="225.93" r="1.25" fill="#3a9bd6"/>
<circle cx="89.40" cy="228.18" r="1.25" fill="#3a9bd6"/>
<circle cx="88.90" cy="237.49" r="1.25" fill="#3a9bd6"/>
<circle cx="89.90" cy="233.26" r="1.25" fill="#3a9bd6"/>
<rect x="94.20" y="212.11" width="3.80" height="83.19" fill="#8892c0" stroke="none" stroke-width="0"/>
<line x1="96.10000000000001" y1="208.58500000000004" x2="96.10000000000001" y2="215.63500000000002" stroke="#1b4a88" stroke-width="0.6"/>
<line x1="94.9" y1="208.58500000000004" x2="97.30000000000001" y2="208.58500000000004" stroke="#1b4a88" stroke-width="0.6"/>
<circle cx="95.70" cy="205.77" r="1.25" fill="#182f6a"/>
<circle cx="96.50" cy="211.41" r="1.25" fill="#182f6a"/>
<circle cx="96.10" cy="213.10" r="1.25" fill="#182f6a"/>
<circle cx="95.60" cy="215.49" r="1.25" fill="#182f6a"/>
<circle cx="96.60" cy="218.74" r="1.25" fill="#182f6a"/>
<circle cx="96.10" cy="229.31" r="1.25" fill="#182f6a"/>
<rect x="105.20" y="264.28" width="3.80" height="31.02" fill="#a57db2" stroke="none" stroke-width="0"/>
<line x1="107.10000000000001" y1="260.755" x2="107.10000000000001" y2="267.805" stroke="#5b1f70" stroke-width="0.6"/>
<line x1="105.9" y1="260.755" x2="108.30000000000001" y2="260.755" stroke="#5b1f70" stroke-width="0.6"/>
<circle cx="106.70" cy="253.42" r="1.25" fill="#35104a"/>
<circle cx="107.50" cy="260.75" r="1.25" fill="#35104a"/>
<circle cx="107.10" cy="263.43" r="1.25" fill="#35104a"/>
<circle cx="106.60" cy="266.11" r="1.25" fill="#35104a"/>
<circle cx="107.60" cy="276.83" r="1.25" fill="#35104a"/>
<rect x="111.60" y="247.36" width="3.80" height="47.94" fill="#a8d38e" stroke="none" stroke-width="0"/>
<line x1="113.5" y1="243.13000000000002" x2="113.5" y2="251.59" stroke="#39a93c" stroke-width="0.6"/>
<line x1="112.3" y1="243.13000000000002" x2="114.7" y2="243.13000000000002" stroke="#39a93c" stroke-width="0.6"/>
<circle cx="113.10" cy="239.75" r="1.25" fill="#2f952f"/>
<circle cx="113.90" cy="242.43" r="1.25" fill="#2f952f"/>
<circle cx="113.50" cy="246.09" r="1.25" fill="#2f952f"/>
<circle cx="113.00" cy="250.60" r="1.25" fill="#2f952f"/>
<circle cx="114.00" cy="253.42" r="1.25" fill="#2f952f"/>
<circle cx="113.50" cy="269.78" r="1.25" fill="#2f952f"/>
<rect x="118.00" y="250.18" width="3.80" height="45.12" fill="#afd3ee" stroke="none" stroke-width="0"/>
<line x1="119.9" y1="247.36" x2="119.9" y2="253.0" stroke="#3ea5de" stroke-width="0.6"/>
<line x1="118.7" y1="247.36" x2="121.10000000000001" y2="247.36" stroke="#3ea5de" stroke-width="0.6"/>
<circle cx="119.50" cy="242.00" r="1.25" fill="#3a9bd6"/>
<circle cx="120.30" cy="247.92" r="1.25" fill="#3a9bd6"/>
<circle cx="119.90" cy="251.45" r="1.25" fill="#3a9bd6"/>
<circle cx="119.40" cy="254.27" r="1.25" fill="#3a9bd6"/>
<circle cx="120.40" cy="257.94" r="1.25" fill="#3a9bd6"/>
<rect x="124.40" y="255.82" width="3.80" height="39.48" fill="#8892c0" stroke="none" stroke-width="0"/>
<line x1="126.30000000000001" y1="253.0" x2="126.30000000000001" y2="258.64" stroke="#1b4a88" stroke-width="0.6"/>
<line x1="125.10000000000001" y1="253.0" x2="127.50000000000001" y2="253.0" stroke="#1b4a88" stroke-width="0.6"/>
<circle cx="125.90" cy="250.60" r="1.25" fill="#182f6a"/>
<circle cx="126.70" cy="255.26" r="1.25" fill="#182f6a"/>
<circle cx="126.30" cy="257.94" r="1.25" fill="#182f6a"/>
<circle cx="125.80" cy="262.45" r="1.25" fill="#182f6a"/>
<circle cx="126.80" cy="267.10" r="1.25" fill="#182f6a"/>
<line x1="41.2" y1="295.3" x2="133.0" y2="295.3" stroke="#333333" stroke-width="1"/>
<line x1="55.3" y1="295.3" x2="55.3" y2="297.3" stroke="#333333" stroke-width="0.9"/>
<text x="55.3" y="306.9" font-size="6.0" text-anchor="middle" font-weight="normal" fill="#333" stroke="#333" stroke-width="0.12">LT-HSC</text>
<line x1="86.0" y1="295.3" x2="86.0" y2="297.3" stroke="#333333" stroke-width="0.9"/>
<text x="86.0" y="306.9" font-size="6.0" text-anchor="middle" font-weight="normal" fill="#333" stroke="#333" stroke-width="0.12">MPP</text>
<line x1="116.8" y1="295.3" x2="116.8" y2="297.3" stroke="#333333" stroke-width="0.9"/>
<text x="116.8" y="306.9" font-size="6.0" text-anchor="middle" font-weight="normal" fill="#333" stroke="#333" stroke-width="0.12">ST-HSC</text>
<text x="145.3" y="162.3" font-size="10.5" text-anchor="start" font-weight="bold" fill="#000" stroke="#000" stroke-width="0.45">E</text>
<text x="215.8" y="172.3" font-size="7.8" text-anchor="middle" font-weight="normal" fill="#222222" stroke="#222222" stroke-width="0.12">Colony forming potential</text>
<line x1="173.6" y1="182.5" x2="173.6" y2="295.6" stroke="#333333" stroke-width="1"/>
<line x1="171.0" y1="295.6" x2="173.6" y2="295.6" stroke="#333333" stroke-width="1"/>
<text x="167.8" y="297.72400000000005" font-size="5.9" text-anchor="end" font-weight="normal" fill="#333333" stroke="#333333" stroke-width="0.12">0</text>
<line x1="171.0" y1="273.1" x2="173.6" y2="273.1" stroke="#333333" stroke-width="1"/>
<text x="167.8" y="275.22400000000005" font-size="5.9" text-anchor="end" font-weight="normal" fill="#333333" stroke="#333333" stroke-width="0.12">20</text>
<line x1="171.0" y1="250.60000000000002" x2="173.6" y2="250.60000000000002" stroke="#333333" stroke-width="1"/>
<text x="167.8" y="252.72400000000002" font-size="5.9" text-anchor="end" font-weight="normal" fill="#333333" stroke="#333333" stroke-width="0.12">40</text>
<line x1="171.0" y1="228.10000000000002" x2="173.6" y2="228.10000000000002" stroke="#333333" stroke-width="1"/>
<text x="167.8" y="230.22400000000002" font-size="5.9" text-anchor="end" font-weight="normal" fill="#333333" stroke="#333333" stroke-width="0.12">60</text>
<line x1="171.0" y1="205.60000000000002" x2="173.6" y2="205.60000000000002" stroke="#333333" stroke-width="1"/>
<text x="167.8" y="207.72400000000002" font-size="5.9" text-anchor="end" font-weight="normal" fill="#333333" stroke="#333333" stroke-width="0.12">80</text>
<line x1="171.0" y1="183.10000000000002" x2="173.6" y2="183.10000000000002" stroke="#333333" stroke-width="1"/>
<text x="167.8" y="185.22400000000002" font-size="5.9" text-anchor="end" font-weight="normal" fill="#333333" stroke="#333333" stroke-width="0.12">100</text>
<text transform="translate(152.4,237.9) rotate(-90) scale(1.0,1)" x="0" y="0" font-size="8.4" text-anchor="middle" font-weight="normal" fill="#333" textLength="48.2" lengthAdjust="spacingAndGlyphs" stroke="#333" stroke-width="0.3">Number of colonies</text>
<rect x="176.80" y="221.01" width="6.30" height="74.59" fill="#5b1f70" stroke="none" stroke-width="0"/>
<line x1="179.95000000000002" y1="219.66250000000002" x2="179.95000000000002" y2="224.01250000000005" stroke="#111" stroke-width="0.7"/>
<line x1="178.35000000000002" y1="219.66250000000002" x2="181.55" y2="219.66250000000002" stroke="#111" stroke-width="0.7"/>
<circle cx="179.95" cy="218.54" r="1.35" fill="#111"/>
<circle cx="178.65" cy="220.79" r="1.35" fill="#111"/>
<circle cx="181.25" cy="221.35" r="1.35" fill="#111"/>
<rect x="186.20" y="203.35" width="6.30" height="92.25" fill="#39a93c" stroke="none" stroke-width="0"/>
<line x1="189.35" y1="199.97500000000002" x2="189.35" y2="206.35000000000002" stroke="#111" stroke-width="0.7"/>
<line x1="187.75" y1="199.97500000000002" x2="190.95" y2="199.97500000000002" stroke="#111" stroke-width="0.7"/>
<circle cx="189.35" cy="197.16" r="1.35" fill="#111"/>
<circle cx="188.05" cy="199.98" r="1.35" fill="#111"/>
<circle cx="190.65" cy="205.60" r="1.35" fill="#111"/>
<circle cx="189.35" cy="208.41" r="1.35" fill="#111"/>
<rect x="196.00" y="242.73" width="6.30" height="52.88" fill="#3ea5de" stroke="none" stroke-width="0"/>
<line x1="199.15" y1="241.37500000000003" x2="199.15" y2="245.72500000000002" stroke="#111" stroke-width="0.7"/>
<line x1="197.55" y1="241.37500000000003" x2="200.75" y2="241.37500000000003" stroke="#111" stroke-width="0.7"/>
<circle cx="199.15" cy="241.60" r="1.35" fill="#111"/>
<circle cx="197.85" cy="242.50" r="1.35" fill="#111"/>
<circle cx="200.45" cy="244.98" r="1.35" fill="#111"/>
<rect x="205.20" y="219.10" width="6.30" height="76.50" fill="#1b4a88" stroke="none" stroke-width="0"/>
<line x1="208.35" y1="214.03750000000002" x2="208.35" y2="222.10000000000002" stroke="#111" stroke-width="0.7"/>
<line x1="206.75" y1="214.03750000000002" x2="209.95" y2="214.03750000000002" stroke="#111" stroke-width="0.7"/>
<circle cx="208.35" cy="209.54" r="1.35" fill="#111"/>
<circle cx="207.05" cy="220.23" r="1.35" fill="#111"/>
<circle cx="209.65" cy="225.85" r="1.35" fill="#111"/>
<rect x="220.50" y="279.40" width="6.30" height="16.20" fill="#5b1f70" stroke="none" stroke-width="0"/>
<line x1="223.65" y1="278.725" x2="223.65" y2="282.40000000000003" stroke="#111" stroke-width="0.7"/>
<line x1="222.05" y1="278.725" x2="225.25" y2="278.725" stroke="#111" stroke-width="0.7"/>
<circle cx="223.65" cy="278.95" r="1.35" fill="#111"/>
<circle cx="222.35" cy="279.51" r="1.35" fill="#111"/>
<circle cx="224.95" cy="280.08" r="1.35" fill="#111"/>
<rect x="230.30" y="265.56" width="6.30" height="30.04" fill="#39a93c" stroke="none" stroke-width="0"/>
<line x1="233.45000000000002" y1="263.3125" x2="233.45000000000002" y2="268.5625" stroke="#111" stroke-width="0.7"/>
<line x1="231.85000000000002" y1="263.3125" x2="235.05" y2="263.3125" stroke="#111" stroke-width="0.7"/>
<circle cx="233.45" cy="261.85" r="1.35" fill="#111"/>
<circle cx="232.15" cy="263.54" r="1.35" fill="#111"/>
<circle cx="234.75" cy="268.04" r="1.35" fill="#111"/>
<circle cx="233.45" cy="269.73" r="1.35" fill="#111"/>
<rect x="239.50" y="263.65" width="6.30" height="31.95" fill="#3ea5de" stroke="none" stroke-width="0"/>
<line x1="242.65" y1="262.75" x2="242.65" y2="266.65000000000003" stroke="#111" stroke-width="0.7"/>
<line x1="241.05" y1="262.75" x2="244.25" y2="262.75" stroke="#111" stroke-width="0.7"/>
<circle cx="242.65" cy="262.41" r="1.35" fill="#111"/>
<circle cx="241.35" cy="262.98" r="1.35" fill="#111"/>
<circle cx="243.95" cy="263.54" r="1.35" fill="#111"/>
<rect x="248.90" y="265.23" width="6.30" height="30.38" fill="#1b4a88" stroke="none" stroke-width="0"/>
<line x1="252.05" y1="262.75" x2="252.05" y2="268.225" stroke="#111" stroke-width="0.7"/>
<line x1="250.45000000000002" y1="262.75" x2="253.65" y2="262.75" stroke="#111" stroke-width="0.7"/>
<circle cx="252.05" cy="259.04" r="1.35" fill="#111"/>
<circle cx="250.75" cy="262.41" r="1.35" fill="#111"/>
<circle cx="253.35" cy="268.60" r="1.35" fill="#111"/>
<line x1="173.6" y1="295.6" x2="259.0" y2="295.6" stroke="#333333" stroke-width="1"/>
<line x1="194.4" y1="295.6" x2="194.4" y2="297.6" stroke="#333333" stroke-width="0.9"/>
<line x1="237.5" y1="295.6" x2="237.5" y2="297.6" stroke="#333333" stroke-width="0.9"/>
<text x="194.4" y="306.6" font-size="6.0" text-anchor="middle" font-weight="normal" fill="#333" stroke="#333" stroke-width="0.12">1<tspan font-size="3.6" dy="-2.2">st</tspan><tspan dy="2.2"> plating</tspan></text>
<text x="237.5" y="306.6" font-size="6.0" text-anchor="middle" font-weight="normal" fill="#333" stroke="#333" stroke-width="0.12">2<tspan font-size="3.6" dy="-2.2">nd</tspan><tspan dy="2.2"> plating</tspan></text>
<line x1="178.3" y1="181.9" x2="199.9" y2="181.9" stroke="#3a3a3a" stroke-width="1.0"/>
<text x="189.0" y="181.0" font-size="5.6" text-anchor="middle" font-weight="normal" fill="#222" stroke="#222" stroke-width="0.12">**</text>
<line x1="178.3" y1="192.6" x2="189.5" y2="192.6" stroke="#3a3a3a" stroke-width="1.0"/>
<text x="184.6" y="191.7" font-size="5.6" text-anchor="middle" font-weight="normal" fill="#222" stroke="#222" stroke-width="0.12">*</text>
<line x1="223.2" y1="234.2" x2="251.3" y2="234.2" stroke="#3a3a3a" stroke-width="1.0"/>
<text x="237.3" y="233.29999999999998" font-size="5.6" text-anchor="middle" font-weight="normal" fill="#222" stroke="#222" stroke-width="0.12">**</text>
<line x1="223.2" y1="244.0" x2="242.5" y2="244.0" stroke="#3a3a3a" stroke-width="1.0"/>
<text x="232.8" y="243.1" font-size="5.6" text-anchor="middle" font-weight="normal" fill="#222" stroke="#222" stroke-width="0.12">**</text>
<line x1="223.2" y1="255.4" x2="232.6" y2="255.4" stroke="#3a3a3a" stroke-width="1.0"/>
<text x="228.0" y="254.5" font-size="5.6" text-anchor="middle" font-weight="normal" fill="#222" stroke="#222" stroke-width="0.12">**</text>
<text x="293.2" y="162.3" font-size="10.5" text-anchor="start" font-weight="bold" fill="#000" stroke="#000" stroke-width="0.45">F</text>
<text x="396.0" y="171.6" font-size="7.8" text-anchor="middle" font-weight="normal" fill="#222222" stroke="#222222" stroke-width="0.12">Gene set enrichment Analysis</text>
<rect x="412.85" y="177.06" width="22.65" height="6.29" fill="#f3906a" stroke="none" stroke-width="0"/>
<rect x="457.55" y="177.06" width="22.65" height="6.29" fill="#f3906a" stroke="none" stroke-width="0"/>
<line x1="407.6" y1="180.2025" x2="410.5" y2="180.2025" stroke="#222" stroke-width="0.8"/>
<text x="404.6" y="182.30249999999998" font-size="6.0" text-anchor="end" font-weight="normal" fill="#222" stroke="#222" stroke-width="0.12">XENOBIOTIC_METABOLISM</text>
<rect x="412.85" y="182.94" width="22.65" height="6.29" fill="#9170c0" stroke="none" stroke-width="0"/>
<rect x="435.20" y="182.94" width="22.65" height="6.29" fill="#9170c0" stroke="none" stroke-width="0"/>
<line x1="407.6" y1="186.08749999999998" x2="410.5" y2="186.08749999999998" stroke="#222" stroke-width="0.8"/>
<text x="404.6" y="188.18749999999997" font-size="6.0" text-anchor="end" font-weight="normal" fill="#222" stroke="#222" stroke-width="0.12">WNT_BETA_CATENIN_SIGNALING</text>
<rect x="457.55" y="188.83" width="22.65" height="6.29" fill="#f3906a" stroke="none" stroke-width="0"/>
<line x1="407.6" y1="191.9725" x2="410.5" y2="191.9725" stroke="#222" stroke-width="0.8"/>
<text x="404.6" y="194.0725" font-size="6.0" text-anchor="end" font-weight="normal" fill="#222" stroke="#222" stroke-width="0.12">UV_RESPONSE_UP</text>
<rect x="412.85" y="194.72" width="22.65" height="6.29" fill="#f3906a" stroke="none" stroke-width="0"/>
<rect x="435.20" y="194.72" width="22.65" height="6.29" fill="#9170c0" stroke="none" stroke-width="0"/>
<line x1="407.6" y1="197.8575" x2="410.5" y2="197.8575" stroke="#222" stroke-width="0.8"/>
<text x="404.6" y="199.95749999999998" font-size="6.0" text-anchor="end" font-weight="normal" fill="#222" stroke="#222" stroke-width="0.12">UV_RESPONSE_DN</text>
<rect x="412.85" y="200.60" width="22.65" height="6.29" fill="#8664b9" stroke="none" stroke-width="0"/>
<line x1="407.6" y1="203.74249999999998" x2="410.5" y2="203.74249999999998" stroke="#222" stroke-width="0.8"/>
<text x="404.6" y="205.84249999999997" font-size="6.0" text-anchor="end" font-weight="normal" fill="#222" stroke="#222" stroke-width="0.12">UNFOLDED_PROTEIN_RESPONSE</text>
<rect x="412.85" y="206.49" width="22.65" height="6.29" fill="#f3906a" stroke="none" stroke-width="0"/>
<line x1="407.6" y1="209.6275" x2="410.5" y2="209.6275" stroke="#222" stroke-width="0.8"/>
<text x="404.6" y="211.7275" font-size="6.0" text-anchor="end" font-weight="normal" fill="#222" stroke="#222" stroke-width="0.12">TNFA_SIGNALING_VIA_NFKB</text>
<rect x="435.20" y="212.37" width="22.65" height="6.29" fill="#9b7dc6" stroke="none" stroke-width="0"/>
<line x1="407.6" y1="215.5125" x2="410.5" y2="215.5125" stroke="#222" stroke-width="0.8"/>
<text x="404.6" y="217.61249999999998" font-size="6.0" text-anchor="end" font-weight="normal" fill="#222" stroke="#222" stroke-width="0.12">TGF_BETA_SIGNALING</text>
<rect x="412.85" y="218.25" width="22.65" height="6.29" fill="#8664b9" stroke="none" stroke-width="0"/>
<rect x="435.20" y="218.25" width="22.65" height="6.29" fill="#9b7dc6" stroke="none" stroke-width="0"/>
<line x1="407.6" y1="221.39749999999998" x2="410.5" y2="221.39749999999998" stroke="#222" stroke-width="0.8"/>
<text x="404.6" y="223.49749999999997" font-size="6.0" text-anchor="end" font-weight="normal" fill="#222" stroke="#222" stroke-width="0.12">SPERMATOGENESIS</text>
<rect x="435.20" y="224.14" width="22.65" height="6.29" fill="#9b7dc6" stroke="none" stroke-width="0"/>
<line x1="407.6" y1="227.28249999999997" x2="410.5" y2="227.28249999999997" stroke="#222" stroke-width="0.8"/>
<text x="404.6" y="229.38249999999996" font-size="6.0" text-anchor="end" font-weight="normal" fill="#222" stroke="#222" stroke-width="0.12">PROTEIN_SECRETION</text>
<rect x="412.85" y="230.03" width="22.65" height="6.29" fill="#9b7dc6" stroke="none" stroke-width="0"/>
<line x1="407.6" y1="233.1675" x2="410.5" y2="233.1675" stroke="#222" stroke-width="0.8"/>
<text x="404.6" y="235.26749999999998" font-size="6.0" text-anchor="end" font-weight="normal" fill="#222" stroke="#222" stroke-width="0.12">PI3K_AKT_MTOR_SIGNALING</text>
<rect x="457.55" y="235.91" width="22.65" height="6.29" fill="#f3906a" stroke="none" stroke-width="0"/>
<line x1="407.6" y1="239.05249999999998" x2="410.5" y2="239.05249999999998" stroke="#222" stroke-width="0.8"/>
<text x="404.6" y="241.15249999999997" font-size="6.0" text-anchor="end" font-weight="normal" fill="#222" stroke="#222" stroke-width="0.12">PEROXISOME</text>
<rect x="412.85" y="241.80" width="22.65" height="6.29" fill="#7b56b2" stroke="none" stroke-width="0"/>
<rect x="435.20" y="241.80" width="22.65" height="6.29" fill="#f3906a" stroke="none" stroke-width="0"/>
<rect x="457.55" y="241.80" width="22.65" height="6.29" fill="#f3906a" stroke="none" stroke-width="0"/>
<line x1="407.6" y1="244.9375" x2="410.5" y2="244.9375" stroke="#222" stroke-width="0.8"/>
<text x="404.6" y="247.0375" font-size="6.0" text-anchor="end" font-weight="normal" fill="#222" stroke="#222" stroke-width="0.12">OXIDATIVE_PHOSPHORYLATION</text>
<rect x="412.85" y="247.68" width="22.65" height="6.29" fill="#9170c0" stroke="none" stroke-width="0"/>
<rect x="435.20" y="247.68" width="22.65" height="6.29" fill="#9170c0" stroke="none" stroke-width="0"/>
<rect x="457.55" y="247.68" width="22.65" height="6.29" fill="#9170c0" stroke="none" stroke-width="0"/>
<line x1="407.6" y1="250.8225" x2="410.5" y2="250.8225" stroke="#222" stroke-width="0.8"/>
<text x="404.6" y="252.92249999999999" font-size="6.0" text-anchor="end" font-weight="normal" fill="#222" stroke="#222" stroke-width="0.12">NOTCH_SIGNALING</text>
<rect x="412.85" y="253.56" width="22.65" height="6.29" fill="#9170c0" stroke="none" stroke-width="0"/>
<rect x="435.20" y="253.56" width="22.65" height="6.29" fill="#7b56b2" stroke="none" stroke-width="0"/>
<rect x="457.55" y="253.56" width="22.65" height="6.29" fill="#7b56b2" stroke="none" stroke-width="0"/>
<line x1="407.6" y1="256.7075" x2="410.5" y2="256.7075" stroke="#222" stroke-width="0.8"/>
<text x="404.6" y="258.8075" font-size="6.0" text-anchor="end" font-weight="normal" fill="#222" stroke="#222" stroke-width="0.12">MYOGENESIS</text>
<rect x="412.85" y="259.45" width="22.65" height="6.29" fill="#9170c0" stroke="none" stroke-width="0"/>
<rect x="457.55" y="259.45" width="22.65" height="6.29" fill="#f06a40" stroke="none" stroke-width="0"/>
<line x1="407.6" y1="262.5925" x2="410.5" y2="262.5925" stroke="#222" stroke-width="0.8"/>
<text x="404.6" y="264.6925" font-size="6.0" text-anchor="end" font-weight="normal" fill="#222" stroke="#222" stroke-width="0.12">MYC_TARGETS_V2</text>
<rect x="412.85" y="265.33" width="22.65" height="6.29" fill="#6a42a8" stroke="none" stroke-width="0"/>
<rect x="435.20" y="265.33" width="22.65" height="6.29" fill="#f3906a" stroke="none" stroke-width="0"/>
<rect x="457.55" y="265.33" width="22.65" height="6.29" fill="#f06a40" stroke="none" stroke-width="0"/>
<line x1="407.6" y1="268.47749999999996" x2="410.5" y2="268.47749999999996" stroke="#222" stroke-width="0.8"/>
<text x="404.6" y="270.5775" font-size="6.0" text-anchor="end" font-weight="normal" fill="#222" stroke="#222" stroke-width="0.12">MYC_TARGETS_V1</text>
<rect x="412.85" y="271.22" width="22.65" height="6.29" fill="#a68ccc" stroke="none" stroke-width="0"/>
<rect x="457.55" y="271.22" width="22.65" height="6.29" fill="#f27c52" stroke="none" stroke-width="0"/>
<line x1="407.6" y1="274.36249999999995" x2="410.5" y2="274.36249999999995" stroke="#222" stroke-width="0.8"/>
<text x="404.6" y="276.4625" font-size="6.0" text-anchor="end" font-weight="normal" fill="#222" stroke="#222" stroke-width="0.12">MTORC1_SIGNALING</text>
<rect x="412.85" y="277.11" width="22.65" height="6.29" fill="#5a32a0" stroke="none" stroke-width="0"/>
<rect x="435.20" y="277.11" width="22.65" height="6.29" fill="#6a42a8" stroke="none" stroke-width="0"/>
<rect x="457.55" y="277.11" width="22.65" height="6.29" fill="#9170c0" stroke="none" stroke-width="0"/>
<line x1="407.6" y1="280.2475" x2="410.5" y2="280.2475" stroke="#222" stroke-width="0.8"/>
<text x="404.6" y="282.3475" font-size="6.0" text-anchor="end" font-weight="normal" fill="#222" stroke="#222" stroke-width="0.12">MITOTIC_SPINDLE</text>
<rect x="412.85" y="282.99" width="22.65" height="6.29" fill="#9b7dc6" stroke="none" stroke-width="0"/>
<line x1="407.6" y1="286.1325" x2="410.5" y2="286.1325" stroke="#222" stroke-width="0.8"/>
<text x="404.6" y="288.2325" font-size="6.0" text-anchor="end" font-weight="normal" fill="#222" stroke="#222" stroke-width="0.12">KRAS_SIGNALING_UP</text>
<rect x="435.20" y="288.88" width="22.65" height="6.29" fill="#a68ccc" stroke="none" stroke-width="0"/>
<line x1="407.6" y1="292.0175" x2="410.5" y2="292.0175" stroke="#222" stroke-width="0.8"/>
<text x="404.6" y="294.1175" font-size="6.0" text-anchor="end" font-weight="normal" fill="#222" stroke="#222" stroke-width="0.12">KRAS_SIGNALING_DN</text>
<rect x="412.85" y="294.76" width="22.65" height="6.29" fill="#8664b9" stroke="none" stroke-width="0"/>
<rect x="435.20" y="294.76" width="22.65" height="6.29" fill="#9b7dc6" stroke="none" stroke-width="0"/>
<rect x="457.55" y="294.76" width="22.65" height="6.29" fill="#9b7dc6" stroke="none" stroke-width="0"/>
<line x1="407.6" y1="297.9025" x2="410.5" y2="297.9025" stroke="#222" stroke-width="0.8"/>
<text x="404.6" y="300.0025" font-size="6.0" text-anchor="end" font-weight="normal" fill="#222" stroke="#222" stroke-width="0.12">INTERFERON_GAMMA_RESPONSE</text>
<rect x="412.85" y="300.64" width="22.65" height="6.29" fill="#8664b9" stroke="none" stroke-width="0"/>
<rect x="435.20" y="300.64" width="22.65" height="6.29" fill="#9b7dc6" stroke="none" stroke-width="0"/>
<rect x="457.55" y="300.64" width="22.65" height="6.29" fill="#9b7dc6" stroke="none" stroke-width="0"/>
<line x1="407.6" y1="303.78749999999997" x2="410.5" y2="303.78749999999997" stroke="#222" stroke-width="0.8"/>
<text x="404.6" y="305.8875" font-size="6.0" text-anchor="end" font-weight="normal" fill="#222" stroke="#222" stroke-width="0.12">INTERFERON_ALPHA_RESPONSE</text>
<rect x="412.85" y="306.53" width="22.65" height="6.29" fill="#8664b9" stroke="none" stroke-width="0"/>
<line x1="407.6" y1="309.6725" x2="410.5" y2="309.6725" stroke="#222" stroke-width="0.8"/>
<text x="404.6" y="311.77250000000004" font-size="6.0" text-anchor="end" font-weight="normal" fill="#222" stroke="#222" stroke-width="0.12">INFLAMMATORY_RESPONSE</text>
<rect x="412.85" y="312.42" width="22.65" height="6.29" fill="#9170c0" stroke="none" stroke-width="0"/>
<line x1="407.6" y1="315.5575" x2="410.5" y2="315.5575" stroke="#222" stroke-width="0.8"/>
<text x="404.6" y="317.6575" font-size="6.0" text-anchor="end" font-weight="normal" fill="#222" stroke="#222" stroke-width="0.12">IL6_JAK_STAT3_SIGNALING</text>
<rect x="435.20" y="318.30" width="22.65" height="6.29" fill="#a68ccc" stroke="none" stroke-width="0"/>
<line x1="407.6" y1="321.4425" x2="410.5" y2="321.4425" stroke="#222" stroke-width="0.8"/>
<text x="404.6" y="323.5425" font-size="6.0" text-anchor="end" font-weight="normal" fill="#222" stroke="#222" stroke-width="0.12">IL2_STAT5_SIGNALING</text>
<rect x="412.85" y="324.19" width="22.65" height="6.29" fill="#f06a40" stroke="none" stroke-width="0"/>
<rect x="457.55" y="324.19" width="22.65" height="6.29" fill="#f3906a" stroke="none" stroke-width="0"/>
<line x1="407.6" y1="327.3275" x2="410.5" y2="327.3275" stroke="#222" stroke-width="0.8"/>
<text x="404.6" y="329.4275" font-size="6.0" text-anchor="end" font-weight="normal" fill="#222" stroke="#222" stroke-width="0.12">HYPOXIA</text>
<rect x="435.20" y="330.07" width="22.65" height="6.29" fill="#a68ccc" stroke="none" stroke-width="0"/>
<rect x="457.55" y="330.07" width="22.65" height="6.29" fill="#f27c52" stroke="none" stroke-width="0"/>
<line x1="407.6" y1="333.2125" x2="410.5" y2="333.2125" stroke="#222" stroke-width="0.8"/>
<text x="404.6" y="335.3125" font-size="6.0" text-anchor="end" font-weight="normal" fill="#222" stroke="#222" stroke-width="0.12">HEME_METABOLISM</text>
<rect x="457.55" y="335.95" width="22.65" height="6.29" fill="#f3906a" stroke="none" stroke-width="0"/>
<line x1="407.6" y1="339.09749999999997" x2="410.5" y2="339.09749999999997" stroke="#222" stroke-width="0.8"/>
<text x="404.6" y="341.1975" font-size="6.0" text-anchor="end" font-weight="normal" fill="#222" stroke="#222" stroke-width="0.12">GLYCOLYSIS</text>
<rect x="412.85" y="341.84" width="22.65" height="6.29" fill="#2e1a88" stroke="none" stroke-width="0"/>
<rect x="457.55" y="341.84" width="22.65" height="6.29" fill="#f3906a" stroke="none" stroke-width="0"/>
<line x1="407.6" y1="344.98249999999996" x2="410.5" y2="344.98249999999996" stroke="#222" stroke-width="0.8"/>
<text x="404.6" y="347.0825" font-size="6.0" text-anchor="end" font-weight="normal" fill="#222" stroke="#222" stroke-width="0.12">G2M_CHECKPOINT</text>
<rect x="435.20" y="347.72" width="22.65" height="6.29" fill="#f3906a" stroke="none" stroke-width="0"/>
<rect x="457.55" y="347.72" width="22.65" height="6.29" fill="#f06a40" stroke="none" stroke-width="0"/>
<line x1="407.6" y1="350.86749999999995" x2="410.5" y2="350.86749999999995" stroke="#222" stroke-width="0.8"/>
<text x="404.6" y="352.9675" font-size="6.0" text-anchor="end" font-weight="normal" fill="#222" stroke="#222" stroke-width="0.12">FATTY_ACID_METABOLISM</text>
<rect x="412.85" y="353.61" width="22.65" height="6.29" fill="#a68ccc" stroke="none" stroke-width="0"/>
<rect x="435.20" y="353.61" width="22.65" height="6.29" fill="#9170c0" stroke="none" stroke-width="0"/>
<line x1="407.6" y1="356.75249999999994" x2="410.5" y2="356.75249999999994" stroke="#222" stroke-width="0.8"/>
<text x="404.6" y="358.85249999999996" font-size="6.0" text-anchor="end" font-weight="normal" fill="#222" stroke="#222" stroke-width="0.12">ESTROGEN_RESPONSE_EARLY</text>
<rect x="412.85" y="359.50" width="22.65" height="6.29" fill="#f27c52" stroke="none" stroke-width="0"/>
<rect x="435.20" y="359.50" width="22.65" height="6.29" fill="#9170c0" stroke="none" stroke-width="0"/>
<rect x="457.55" y="359.50" width="22.65" height="6.29" fill="#9170c0" stroke="none" stroke-width="0"/>
<line x1="407.6" y1="362.6375" x2="410.5" y2="362.6375" stroke="#222" stroke-width="0.8"/>
<text x="404.6" y="364.7375" font-size="6.0" text-anchor="end" font-weight="normal" fill="#222" stroke="#222" stroke-width="0.12">EPITH_MESENCHYMAL_TRANSITION</text>
<rect x="412.85" y="365.38" width="22.65" height="6.29" fill="#2e1a88" stroke="none" stroke-width="0"/>
<rect x="457.55" y="365.38" width="22.65" height="6.29" fill="#f06a40" stroke="none" stroke-width="0"/>
<line x1="407.6" y1="368.5225" x2="410.5" y2="368.5225" stroke="#222" stroke-width="0.8"/>
<text x="404.6" y="370.6225" font-size="6.0" text-anchor="end" font-weight="normal" fill="#222" stroke="#222" stroke-width="0.12">E2F_TARGETS</text>
<rect x="412.85" y="371.26" width="22.65" height="6.29" fill="#9170c0" stroke="none" stroke-width="0"/>
<rect x="435.20" y="371.26" width="22.65" height="6.29" fill="#f3906a" stroke="none" stroke-width="0"/>
<line x1="407.6" y1="374.40749999999997" x2="410.5" y2="374.40749999999997" stroke="#222" stroke-width="0.8"/>
<text x="404.6" y="376.5075" font-size="6.0" text-anchor="end" font-weight="normal" fill="#222" stroke="#222" stroke-width="0.12">DNA_REPAIR</text>
<rect x="457.55" y="377.15" width="22.65" height="6.29" fill="#f49c7a" stroke="none" stroke-width="0"/>
<line x1="407.6" y1="380.2925" x2="410.5" y2="380.2925" stroke="#222" stroke-width="0.8"/>
<text x="404.6" y="382.39250000000004" font-size="6.0" text-anchor="end" font-weight="normal" fill="#222" stroke="#222" stroke-width="0.12">COMPLEMENT</text>
<rect x="435.20" y="383.04" width="22.65" height="6.29" fill="#8664b9" stroke="none" stroke-width="0"/>
<line x1="407.6" y1="386.1775" x2="410.5" y2="386.1775" stroke="#222" stroke-width="0.8"/>
<text x="404.6" y="388.27750000000003" font-size="6.0" text-anchor="end" font-weight="normal" fill="#222" stroke="#222" stroke-width="0.12">CHOLESTEROL_HOMEOSTASIS</text>
<rect x="412.85" y="388.92" width="22.65" height="6.29" fill="#f3906a" stroke="none" stroke-width="0"/>
<rect x="457.55" y="388.92" width="22.65" height="6.29" fill="#f27c52" stroke="none" stroke-width="0"/>
<line x1="407.6" y1="392.0625" x2="410.5" y2="392.0625" stroke="#222" stroke-width="0.8"/>
<text x="404.6" y="394.1625" font-size="6.0" text-anchor="end" font-weight="normal" fill="#222" stroke="#222" stroke-width="0.12">BILE_ACID_METABOLISM</text>
<rect x="412.85" y="394.81" width="22.65" height="6.29" fill="#a68ccc" stroke="none" stroke-width="0"/>
<line x1="407.6" y1="397.9475" x2="410.5" y2="397.9475" stroke="#222" stroke-width="0.8"/>
<text x="404.6" y="400.0475" font-size="6.0" text-anchor="end" font-weight="normal" fill="#222" stroke="#222" stroke-width="0.12">APOPTOSIS</text>
<rect x="412.85" y="400.69" width="22.65" height="6.29" fill="#9b7dc6" stroke="none" stroke-width="0"/>
<line x1="407.6" y1="403.8325" x2="410.5" y2="403.8325" stroke="#222" stroke-width="0.8"/>
<text x="404.6" y="405.9325" font-size="6.0" text-anchor="end" font-weight="normal" fill="#222" stroke="#222" stroke-width="0.12">APICAL_SURFACE</text>
<rect x="435.20" y="406.57" width="22.65" height="6.29" fill="#8664b9" stroke="none" stroke-width="0"/>
<line x1="407.6" y1="409.7175" x2="410.5" y2="409.7175" stroke="#222" stroke-width="0.8"/>
<text x="404.6" y="411.8175" font-size="6.0" text-anchor="end" font-weight="normal" fill="#222" stroke="#222" stroke-width="0.12">APICAL_JUNCTION</text>
<rect x="457.55" y="412.46" width="22.65" height="6.29" fill="#f3906a" stroke="none" stroke-width="0"/>
<line x1="407.6" y1="415.60249999999996" x2="410.5" y2="415.60249999999996" stroke="#222" stroke-width="0.8"/>
<text x="404.6" y="417.7025" font-size="6.0" text-anchor="end" font-weight="normal" fill="#222" stroke="#222" stroke-width="0.12">ANDROGEN_RESPONSE</text>
<rect x="412.85" y="418.34" width="22.65" height="6.29" fill="#5a32a0" stroke="none" stroke-width="0"/>
<rect x="457.55" y="418.34" width="22.65" height="6.29" fill="#9170c0" stroke="none" stroke-width="0"/>
<line x1="407.6" y1="421.48749999999995" x2="410.5" y2="421.48749999999995" stroke="#222" stroke-width="0.8"/>
<text x="404.6" y="423.5875" font-size="6.0" text-anchor="end" font-weight="normal" fill="#222" stroke="#222" stroke-width="0.12">ALLOGRAFT_REJECTION</text>
<rect x="412.85" y="424.23" width="22.65" height="6.29" fill="#f3906a" stroke="none" stroke-width="0"/>
<rect x="457.55" y="424.23" width="22.65" height="6.29" fill="#f27c52" stroke="none" stroke-width="0"/>
<line x1="407.6" y1="427.37249999999995" x2="410.5" y2="427.37249999999995" stroke="#222" stroke-width="0.8"/>
<text x="404.6" y="429.47249999999997" font-size="6.0" text-anchor="end" font-weight="normal" fill="#222" stroke="#222" stroke-width="0.12">ADIPOGENESIS</text>
<line x1="410.5" y1="177.2" x2="410.5" y2="430.6" stroke="#111" stroke-width="1"/>
<line x1="410.5" y1="430.6" x2="482.3" y2="430.6" stroke="#111" stroke-width="1"/>
<line x1="424.1" y1="430.6" x2="424.1" y2="432.8" stroke="#111" stroke-width="0.8"/>
<line x1="446.4" y1="430.6" x2="446.4" y2="432.8" stroke="#111" stroke-width="0.8"/>
<line x1="468.7" y1="430.6" x2="468.7" y2="432.8" stroke="#111" stroke-width="0.8"/>
<text transform="translate(427.4,442.8) rotate(-45)" font-size="6.6" text-anchor="end" fill="#333" stroke="#333" stroke-width="0.12">Egr1<tspan font-size="4.2" dy="-2.3">&#8211;/&#8211;</tspan></text>
<text transform="translate(449.3,442.0) rotate(-45)" font-size="6.0" text-anchor="end" fill="#333" stroke="#333" stroke-width="0.12">Csnk1a1<tspan font-size="4.0" dy="-2.2">fl/+</tspan></text>
<text transform="translate(467.6,442.0) rotate(-45)" font-size="6.0" text-anchor="end" fill="#333" stroke="#333" stroke-width="0.12">Csnk1a1<tspan font-size="4.0" dy="-2.2">fl/+</tspan></text>
<text transform="translate(474.6,447.6) rotate(-45)" font-size="6.6" text-anchor="end" fill="#333" stroke="#333" stroke-width="0.12">Egr1<tspan font-size="4.2" dy="-2.3">&#8211;/&#8211;</tspan></text>
<defs><linearGradient id="nes" x1="0" x2="1" y1="0" y2="0">
<stop offset="0" stop-color="#3a1f8e"/><stop offset="0.2" stop-color="#5d44a6"/><stop offset="0.4" stop-color="#9e8ccc"/>
<stop offset="0.58" stop-color="#ffffff"/><stop offset="0.75" stop-color="#f6b49c"/><stop offset="1" stop-color="#ee5f38"/></linearGradient></defs>
<rect x="339.20" y="449.70" width="52.00" height="10.20" fill="url(#nes)" stroke="none" stroke-width="0"/>
<text x="323.4" y="462.0" font-size="5.8" text-anchor="start" font-weight="normal" fill="#333" stroke="#333" stroke-width="0.12">NES</text>
<text x="347.2" y="468.6" font-size="5.8" text-anchor="middle" font-weight="normal" fill="#333" stroke="#333" stroke-width="0.12">−2</text>
<text x="358.3" y="468.6" font-size="5.8" text-anchor="middle" font-weight="normal" fill="#333" stroke="#333" stroke-width="0.12">−1</text>
<text x="369.3" y="468.6" font-size="5.8" text-anchor="middle" font-weight="normal" fill="#333" stroke="#333" stroke-width="0.12">0</text>
<text x="380.9" y="468.6" font-size="5.8" text-anchor="middle" font-weight="normal" fill="#333" stroke="#333" stroke-width="0.12">1</text>
<text x="6.8" y="332.7" font-size="10.5" text-anchor="start" font-weight="bold" fill="#000" stroke="#000" stroke-width="0.45">G</text>
<text x="152.9" y="342.6" font-size="8.0" text-anchor="middle" font-weight="normal" fill="#222222" stroke="#222222" stroke-width="0.12">CIBERSORT modelling</text>
<text transform="translate(19.3,398.6) rotate(-90) scale(1.0,1)" x="0" y="0" font-size="7.2" text-anchor="middle" font-weight="normal" fill="#333" textLength="20.4" lengthAdjust="spacingAndGlyphs" stroke="#333" stroke-width="0.3">Fraction</text>
<line x1="42.0" y1="349.0" x2="42.0" y2="449.3" stroke="#333333" stroke-width="1"/>
<line x1="39.4" y1="445.2" x2="42.0" y2="445.2" stroke="#333333" stroke-width="1"/>
<text x="36.199999999999996" y="447.324" font-size="5.9" text-anchor="end" font-weight="normal" fill="#333" stroke="#333" stroke-width="0.12">0.00</text>
<line x1="39.4" y1="422.0" x2="42.0" y2="422.0" stroke="#333333" stroke-width="1"/>
<text x="36.199999999999996" y="424.124" font-size="5.9" text-anchor="end" font-weight="normal" fill="#333" stroke="#333" stroke-width="0.12">0.02</text>
<line x1="39.4" y1="398.8" x2="42.0" y2="398.8" stroke="#333333" stroke-width="1"/>
<text x="36.199999999999996" y="400.92400000000004" font-size="5.9" text-anchor="end" font-weight="normal" fill="#333" stroke="#333" stroke-width="0.12">0.04</text>
<line x1="39.4" y1="375.6" x2="42.0" y2="375.6" stroke="#333333" stroke-width="1"/>
<text x="36.199999999999996" y="377.72400000000005" font-size="5.9" text-anchor="end" font-weight="normal" fill="#333" stroke="#333" stroke-width="0.12">0.06</text>
<line x1="39.4" y1="352.4" x2="42.0" y2="352.4" stroke="#333333" stroke-width="1"/>
<text x="36.199999999999996" y="354.524" font-size="5.9" text-anchor="end" font-weight="normal" fill="#333" stroke="#333" stroke-width="0.12">0.08</text>
<line x1="42.0" y1="449.3" x2="103.0" y2="449.3" stroke="#222" stroke-width="1"/>
<line x1="50.7" y1="399.1" x2="50.7" y2="445.7" stroke="#222" stroke-width="0.7"/>
<rect x="45.50" y="353.20" width="10.40" height="45.90" fill="#5b1f70" stroke="#222" stroke-width="0.5"/>
<line x1="45.5" y1="353.6" x2="55.9" y2="353.6" stroke="#111" stroke-width="1.0"/>
<line x1="65.65" y1="396.4" x2="65.65" y2="400.2" stroke="#222" stroke-width="0.7"/>
<line x1="65.65" y1="424.5" x2="65.65" y2="445.7" stroke="#222" stroke-width="0.7"/>
<rect x="60.20" y="400.20" width="10.90" height="24.30" fill="#39a93c" stroke="#222" stroke-width="0.5"/>
<line x1="60.2" y1="403.2" x2="71.1" y2="403.2" stroke="#111" stroke-width="1.0"/>
<line x1="80.45" y1="429.3" x2="80.45" y2="432.0" stroke="#222" stroke-width="0.7"/>
<line x1="80.45" y1="439.5" x2="80.45" y2="445.2" stroke="#222" stroke-width="0.7"/>
<rect x="75.00" y="432.00" width="10.90" height="7.50" fill="#3ea5de" stroke="#222" stroke-width="0.5"/>
<line x1="75.0" y1="433.4" x2="85.9" y2="433.4" stroke="#111" stroke-width="1.0"/>
<line x1="95.3" y1="391.5" x2="95.3" y2="418.9" stroke="#222" stroke-width="0.7"/>
<rect x="89.80" y="418.90" width="11.00" height="26.40" fill="#1b4a88" stroke="#222" stroke-width="0.5"/>
<line x1="89.8" y1="445.0" x2="100.8" y2="445.0" stroke="#111" stroke-width="1.0"/>
<text x="73.0" y="459.5" font-size="7.5" text-anchor="middle" font-weight="normal" fill="#333" stroke="#333" stroke-width="0.25" textLength="17.7" lengthAdjust="spacingAndGlyphs">LT-HSC</text>
<line x1="130.8" y1="347.7" x2="130.8" y2="449.3" stroke="#333333" stroke-width="1"/>
<line x1="128.20000000000002" y1="445.8" x2="130.8" y2="445.8" stroke="#333333" stroke-width="1"/>
<text x="125.00000000000001" y="447.92400000000004" font-size="5.9" text-anchor="end" font-weight="normal" fill="#333" stroke="#333" stroke-width="0.12">0.00</text>
<line x1="128.20000000000002" y1="423.3" x2="130.8" y2="423.3" stroke="#333333" stroke-width="1"/>
<text x="125.00000000000001" y="425.42400000000004" font-size="5.9" text-anchor="end" font-weight="normal" fill="#333" stroke="#333" stroke-width="0.12">0.05</text>
<line x1="128.20000000000002" y1="400.8" x2="130.8" y2="400.8" stroke="#333333" stroke-width="1"/>
<text x="125.00000000000001" y="402.92400000000004" font-size="5.9" text-anchor="end" font-weight="normal" fill="#333" stroke="#333" stroke-width="0.12">0.10</text>
<line x1="128.20000000000002" y1="378.3" x2="130.8" y2="378.3" stroke="#333333" stroke-width="1"/>
<text x="125.00000000000001" y="380.42400000000004" font-size="5.9" text-anchor="end" font-weight="normal" fill="#333" stroke="#333" stroke-width="0.12">0.15</text>
<line x1="128.20000000000002" y1="355.8" x2="130.8" y2="355.8" stroke="#333333" stroke-width="1"/>
<text x="125.00000000000001" y="357.92400000000004" font-size="5.9" text-anchor="end" font-weight="normal" fill="#333" stroke="#333" stroke-width="0.12">0.20</text>
<line x1="130.8" y1="449.3" x2="193.0" y2="449.3" stroke="#222" stroke-width="1"/>
<line x1="139.75" y1="363.4" x2="139.75" y2="404.9" stroke="#222" stroke-width="0.7"/>
<rect x="134.20" y="404.90" width="11.10" height="40.40" fill="#5b1f70" stroke="#222" stroke-width="0.5"/>
<line x1="154.64999999999998" y1="382.3" x2="154.64999999999998" y2="397.3" stroke="#222" stroke-width="0.7"/>
<line x1="154.64999999999998" y1="421.5" x2="154.64999999999998" y2="433.1" stroke="#222" stroke-width="0.7"/>
<rect x="149.20" y="397.30" width="10.90" height="24.20" fill="#39a93c" stroke="#222" stroke-width="0.5"/>
<line x1="149.2" y1="411.2" x2="160.1" y2="411.2" stroke="#111" stroke-width="1.0"/>
<line x1="169.39999999999998" y1="356.9" x2="169.39999999999998" y2="366.2" stroke="#222" stroke-width="0.7"/>
<line x1="169.39999999999998" y1="385.3" x2="169.39999999999998" y2="395.0" stroke="#222" stroke-width="0.7"/>
<rect x="164.20" y="366.20" width="10.40" height="19.10" fill="#3ea5de" stroke="#222" stroke-width="0.5"/>
<line x1="164.2" y1="374.9" x2="174.6" y2="374.9" stroke="#111" stroke-width="1.0"/>
<line x1="184.39999999999998" y1="352.1" x2="184.39999999999998" y2="381.2" stroke="#222" stroke-width="0.7"/>
<line x1="184.39999999999998" y1="427.3" x2="184.39999999999998" y2="445.3" stroke="#222" stroke-width="0.7"/>
<rect x="179.20" y="381.20" width="10.40" height="46.10" fill="#1b4a88" stroke="#222" stroke-width="0.5"/>
<line x1="179.2" y1="409.6" x2="189.6" y2="409.6" stroke="#111" stroke-width="1.0"/>
<text x="162.0" y="459.3" font-size="7.5" text-anchor="middle" font-weight="normal" fill="#333" stroke="#333" stroke-width="0.25" textLength="18.5" lengthAdjust="spacingAndGlyphs">ST-HSC</text>
<line x1="215.9" y1="347.7" x2="215.9" y2="449.3" stroke="#333333" stroke-width="1"/>
<line x1="213.3" y1="439.8" x2="215.9" y2="439.8" stroke="#333333" stroke-width="1"/>
<text x="210.10000000000002" y="441.92400000000004" font-size="5.9" text-anchor="end" font-weight="normal" fill="#333" stroke="#333" stroke-width="0.12">0.5</text>
<line x1="213.3" y1="417.1" x2="215.9" y2="417.1" stroke="#333333" stroke-width="1"/>
<text x="210.10000000000002" y="419.22400000000005" font-size="5.9" text-anchor="end" font-weight="normal" fill="#333" stroke="#333" stroke-width="0.12">0.6</text>
<line x1="213.3" y1="394.40000000000003" x2="215.9" y2="394.40000000000003" stroke="#333333" stroke-width="1"/>
<text x="210.10000000000002" y="396.52400000000006" font-size="5.9" text-anchor="end" font-weight="normal" fill="#333" stroke="#333" stroke-width="0.12">0.7</text>
<line x1="213.3" y1="371.70000000000005" x2="215.9" y2="371.70000000000005" stroke="#333333" stroke-width="1"/>
<text x="210.10000000000002" y="373.82400000000007" font-size="5.9" text-anchor="end" font-weight="normal" fill="#333" stroke="#333" stroke-width="0.12">0.8</text>
<line x1="213.3" y1="349.0" x2="215.9" y2="349.0" stroke="#333333" stroke-width="1"/>
<text x="210.10000000000002" y="351.124" font-size="5.9" text-anchor="end" font-weight="normal" fill="#333" stroke="#333" stroke-width="0.12">0.9</text>
<line x1="215.9" y1="449.3" x2="278.5" y2="449.3" stroke="#222" stroke-width="1"/>
<line x1="225.15" y1="410.9" x2="225.15" y2="420.5" stroke="#222" stroke-width="0.7"/>
<line x1="225.15" y1="434.1" x2="225.15" y2="438.6" stroke="#222" stroke-width="0.7"/>
<rect x="219.80" y="420.50" width="10.70" height="13.60" fill="#5b1f70" stroke="#222" stroke-width="0.5"/>
<line x1="219.8" y1="429.1" x2="230.5" y2="429.1" stroke="#111" stroke-width="1.0"/>
<line x1="239.64999999999998" y1="423.4" x2="239.64999999999998" y2="444.5" stroke="#222" stroke-width="0.7"/>
<rect x="234.10" y="402.30" width="11.10" height="21.10" fill="#39a93c" stroke="#222" stroke-width="0.5"/>
<line x1="234.1" y1="402.6" x2="245.2" y2="402.6" stroke="#111" stroke-width="1.0"/>
<line x1="249.3" y1="415.0" x2="259.5" y2="415.0" stroke="#4a4a4a" stroke-width="0.9"/>
<line x1="269.55" y1="352.3" x2="269.55" y2="380.9" stroke="#222" stroke-width="0.7"/>
<line x1="269.55" y1="426.4" x2="269.55" y2="445.0" stroke="#222" stroke-width="0.7"/>
<rect x="264.10" y="380.90" width="10.90" height="45.50" fill="#1b4a88" stroke="#222" stroke-width="0.5"/>
<line x1="264.1" y1="408.6" x2="275.0" y2="408.6" stroke="#111" stroke-width="1.0"/>
<text x="247.2" y="459.3" font-size="7.5" text-anchor="middle" font-weight="normal" fill="#333" stroke="#333" stroke-width="0.25" textLength="15" lengthAdjust="spacingAndGlyphs">MPP2</text>
<text x="7.3" y="507.0" font-size="10.5" text-anchor="start" font-weight="bold" fill="#000" stroke="#000" stroke-width="0.45">H</text>
<text x="71.3" y="516.3" font-size="7.7" text-anchor="middle" font-weight="normal" fill="#222222" stroke="#222222" stroke-width="0.12">G2M-phase</text>
<text x="143.0" y="516.3" font-size="7.7" text-anchor="middle" font-weight="normal" fill="#222222" stroke="#222222" stroke-width="0.12">S-phase</text>
<path d="M44.90,549.20 C45.60,549.10 47.22,549.72 49.10,548.60 C50.98,547.48 54.20,544.57 56.20,542.50 C58.20,540.43 59.82,538.90 61.10,536.20 C62.38,533.50 63.12,528.67 63.90,526.30 C64.68,523.93 65.08,522.35 65.80,522.00 C66.52,521.65 67.22,523.13 68.20,524.20 C69.18,525.27 70.65,527.23 71.70,528.40 C72.75,529.57 73.57,529.90 74.50,531.20 C75.43,532.50 76.12,534.32 77.30,536.20 C78.48,538.08 80.18,541.22 81.60,542.50 C83.02,543.78 84.52,543.55 85.80,543.90 C87.08,544.25 88.12,543.97 89.30,544.60 C90.48,545.23 91.83,546.93 92.90,547.70 C93.97,548.47 95.23,548.95 95.70,549.20 L95.70,549.20 L44.90,549.20 Z" fill="#1b4a88" stroke="none"/>
<path d="M44.90,549.20 C45.60,549.10 47.22,549.72 49.10,548.60 C50.98,547.48 54.20,544.57 56.20,542.50 C58.20,540.43 59.82,538.90 61.10,536.20 C62.38,533.50 63.12,528.67 63.90,526.30 C64.68,523.93 65.08,522.35 65.80,522.00 C66.52,521.65 67.22,523.13 68.20,524.20 C69.18,525.27 70.65,527.23 71.70,528.40 C72.75,529.57 73.57,529.90 74.50,531.20 C75.43,532.50 76.12,534.32 77.30,536.20 C78.48,538.08 80.18,541.22 81.60,542.50 C83.02,543.78 84.52,543.55 85.80,543.90 C87.08,544.25 88.12,543.97 89.30,544.60 C90.48,545.23 91.83,546.93 92.90,547.70 C93.97,548.47 95.23,548.95 95.70,549.20" fill="none" stroke="#111" stroke-width="0.8"/>
<line x1="70.3" y1="526.72" x2="70.3" y2="549.2" stroke="#111" stroke-width="0.8"/>
<path d="M44.90,565.10 C45.67,565.03 47.85,565.05 49.50,564.70 C51.15,564.35 53.10,564.23 54.80,563.00 C56.50,561.77 58.42,560.37 59.70,557.30 C60.98,554.23 61.68,547.88 62.50,544.60 C63.32,541.32 63.88,538.42 64.60,537.60 C65.32,536.78 65.97,538.65 66.80,539.70 C67.63,540.75 68.55,542.37 69.60,543.90 C70.65,545.43 72.05,547.13 73.10,548.90 C74.15,550.67 74.72,552.98 75.90,554.50 C77.08,556.02 78.78,557.17 80.20,558.00 C81.62,558.83 83.12,559.13 84.40,559.50 C85.68,559.87 86.73,559.50 87.90,560.20 C89.07,560.90 90.10,562.88 91.40,563.70 C92.70,564.52 94.98,564.87 95.70,565.10 L95.70,565.10 L44.90,565.10 Z" fill="#3ea5de" stroke="none"/>
<path d="M44.90,565.10 C45.67,565.03 47.85,565.05 49.50,564.70 C51.15,564.35 53.10,564.23 54.80,563.00 C56.50,561.77 58.42,560.37 59.70,557.30 C60.98,554.23 61.68,547.88 62.50,544.60 C63.32,541.32 63.88,538.42 64.60,537.60 C65.32,536.78 65.97,538.65 66.80,539.70 C67.63,540.75 68.55,542.37 69.60,543.90 C70.65,545.43 72.05,547.13 73.10,548.90 C74.15,550.67 74.72,552.98 75.90,554.50 C77.08,556.02 78.78,557.17 80.20,558.00 C81.62,558.83 83.12,559.13 84.40,559.50 C85.68,559.87 86.73,559.50 87.90,560.20 C89.07,560.90 90.10,562.88 91.40,563.70 C92.70,564.52 94.98,564.87 95.70,565.10" fill="none" stroke="#111" stroke-width="0.8"/>
<line x1="68.6" y1="542.4" x2="68.6" y2="565.1" stroke="#111" stroke-width="0.8"/>
<path d="M44.90,581.00 C45.60,580.93 47.22,581.48 49.10,580.60 C50.98,579.72 54.20,577.70 56.20,575.70 C58.20,573.70 59.82,571.67 61.10,568.60 C62.38,565.53 63.08,559.83 63.90,557.30 C64.72,554.77 65.17,553.63 66.00,553.40 C66.83,553.17 68.07,555.02 68.90,555.90 C69.73,556.78 70.30,558.03 71.00,558.70 C71.70,559.37 72.28,558.95 73.10,559.90 C73.92,560.85 74.72,562.35 75.90,564.40 C77.08,566.45 78.78,570.55 80.20,572.20 C81.62,573.85 83.00,573.60 84.40,574.30 C85.80,575.00 87.18,575.47 88.60,576.40 C90.02,577.33 91.60,579.13 92.90,579.90 C94.20,580.67 95.82,580.82 96.40,581.00 L96.40,581.00 L44.90,581.00 Z" fill="#39a93c" stroke="none"/>
<path d="M44.90,581.00 C45.60,580.93 47.22,581.48 49.10,580.60 C50.98,579.72 54.20,577.70 56.20,575.70 C58.20,573.70 59.82,571.67 61.10,568.60 C62.38,565.53 63.08,559.83 63.90,557.30 C64.72,554.77 65.17,553.63 66.00,553.40 C66.83,553.17 68.07,555.02 68.90,555.90 C69.73,556.78 70.30,558.03 71.00,558.70 C71.70,559.37 72.28,558.95 73.10,559.90 C73.92,560.85 74.72,562.35 75.90,564.40 C77.08,566.45 78.78,570.55 80.20,572.20 C81.62,573.85 83.00,573.60 84.40,574.30 C85.80,575.00 87.18,575.47 88.60,576.40 C90.02,577.33 91.60,579.13 92.90,579.90 C94.20,580.67 95.82,580.82 96.40,581.00" fill="none" stroke="#111" stroke-width="0.8"/>
<line x1="71.0" y1="558.7" x2="71.0" y2="581.0" stroke="#111" stroke-width="0.8"/>
<path d="M44.90,596.90 C45.60,596.85 47.22,597.20 49.10,596.60 C50.98,596.00 54.08,594.67 56.20,593.30 C58.32,591.93 60.52,591.57 61.80,588.40 C63.08,585.23 63.07,577.60 63.90,574.30 C64.73,571.00 65.85,569.20 66.80,568.60 C67.75,568.00 68.67,569.52 69.60,570.70 C70.53,571.88 71.47,573.45 72.40,575.70 C73.33,577.95 73.90,581.97 75.20,584.20 C76.50,586.43 78.43,588.05 80.20,589.10 C81.97,590.15 84.28,589.92 85.80,590.50 C87.32,591.08 88.12,591.67 89.30,592.60 C90.48,593.53 91.83,595.38 92.90,596.10 C93.97,596.82 95.23,596.77 95.70,596.90 L95.70,596.90 L44.90,596.90 Z" fill="#5b1f70" stroke="none"/>
<path d="M44.90,596.90 C45.60,596.85 47.22,597.20 49.10,596.60 C50.98,596.00 54.08,594.67 56.20,593.30 C58.32,591.93 60.52,591.57 61.80,588.40 C63.08,585.23 63.07,577.60 63.90,574.30 C64.73,571.00 65.85,569.20 66.80,568.60 C67.75,568.00 68.67,569.52 69.60,570.70 C70.53,571.88 71.47,573.45 72.40,575.70 C73.33,577.95 73.90,581.97 75.20,584.20 C76.50,586.43 78.43,588.05 80.20,589.10 C81.97,590.15 84.28,589.92 85.80,590.50 C87.32,591.08 88.12,591.67 89.30,592.60 C90.48,593.53 91.83,595.38 92.90,596.10 C93.97,596.82 95.23,596.77 95.70,596.90" fill="none" stroke="#111" stroke-width="0.8"/>
<line x1="71.0" y1="573.2" x2="71.0" y2="596.9" stroke="#111" stroke-width="0.8"/>
<path d="M115.80,549.20 C116.33,549.15 117.92,549.17 119.00,548.90 C120.08,548.63 121.22,548.55 122.30,547.60 C123.38,546.65 124.42,543.75 125.50,543.20 C126.58,542.65 127.72,545.02 128.80,544.30 C129.88,543.58 130.92,541.60 132.00,538.90 C133.08,536.20 134.03,530.98 135.30,528.10 C136.57,525.22 138.35,522.75 139.60,521.60 C140.85,520.45 141.72,520.65 142.80,521.20 C143.88,521.75 145.02,522.67 146.10,524.90 C147.18,527.13 148.05,531.37 149.30,534.60 C150.55,537.83 152.15,541.97 153.60,544.30 C155.05,546.63 156.77,547.78 158.00,548.60 C159.23,549.42 160.50,549.10 161.00,549.20 L161.00,549.20 L115.80,549.20 Z" fill="#1b4a88" stroke="none"/>
<path d="M115.80,549.20 C116.33,549.15 117.92,549.17 119.00,548.90 C120.08,548.63 121.22,548.55 122.30,547.60 C123.38,546.65 124.42,543.75 125.50,543.20 C126.58,542.65 127.72,545.02 128.80,544.30 C129.88,543.58 130.92,541.60 132.00,538.90 C133.08,536.20 134.03,530.98 135.30,528.10 C136.57,525.22 138.35,522.75 139.60,521.60 C140.85,520.45 141.72,520.65 142.80,521.20 C143.88,521.75 145.02,522.67 146.10,524.90 C147.18,527.13 148.05,531.37 149.30,534.60 C150.55,537.83 152.15,541.97 153.60,544.30 C155.05,546.63 156.77,547.78 158.00,548.60 C159.23,549.42 160.50,549.10 161.00,549.20" fill="none" stroke="#111" stroke-width="0.8"/>
<line x1="139.6" y1="521.6" x2="139.6" y2="549.2" stroke="#111" stroke-width="0.8"/>
<path d="M115.80,565.10 C116.70,564.88 119.58,564.92 121.20,563.80 C122.82,562.68 124.05,560.38 125.50,558.40 C126.95,556.42 128.45,554.60 129.90,551.90 C131.35,549.20 132.95,544.37 134.20,542.20 C135.45,540.03 136.13,539.52 137.40,538.90 C138.67,538.28 140.53,537.78 141.80,538.50 C143.07,539.22 143.75,540.43 145.00,543.20 C146.25,545.97 147.87,551.85 149.30,555.10 C150.73,558.35 152.15,561.07 153.60,562.70 C155.05,564.33 156.77,564.50 158.00,564.90 C159.23,565.30 160.50,565.07 161.00,565.10 L161.00,565.10 L115.80,565.10 Z" fill="#3ea5de" stroke="none"/>
<path d="M115.80,565.10 C116.70,564.88 119.58,564.92 121.20,563.80 C122.82,562.68 124.05,560.38 125.50,558.40 C126.95,556.42 128.45,554.60 129.90,551.90 C131.35,549.20 132.95,544.37 134.20,542.20 C135.45,540.03 136.13,539.52 137.40,538.90 C138.67,538.28 140.53,537.78 141.80,538.50 C143.07,539.22 143.75,540.43 145.00,543.20 C146.25,545.97 147.87,551.85 149.30,555.10 C150.73,558.35 152.15,561.07 153.60,562.70 C155.05,564.33 156.77,564.50 158.00,564.90 C159.23,565.30 160.50,565.07 161.00,565.10" fill="none" stroke="#111" stroke-width="0.8"/>
<line x1="140.0" y1="538.6636363636363" x2="140.0" y2="565.1" stroke="#111" stroke-width="0.8"/>
<path d="M115.80,581.00 C116.70,580.83 119.58,581.07 121.20,580.00 C122.82,578.93 124.05,577.12 125.50,574.60 C126.95,572.08 128.45,567.97 129.90,564.90 C131.35,561.83 132.95,558.08 134.20,556.20 C135.45,554.32 136.32,553.95 137.40,553.60 C138.48,553.25 139.43,553.67 140.70,554.10 C141.97,554.53 143.57,553.32 145.00,556.20 C146.43,559.08 147.87,567.62 149.30,571.40 C150.73,575.18 152.15,577.30 153.60,578.90 C155.05,580.50 156.77,580.65 158.00,581.00 C159.23,581.35 160.50,581.00 161.00,581.00 L161.00,581.00 L115.80,581.00 Z" fill="#39a93c" stroke="none"/>
<path d="M115.80,581.00 C116.70,580.83 119.58,581.07 121.20,580.00 C122.82,578.93 124.05,577.12 125.50,574.60 C126.95,572.08 128.45,567.97 129.90,564.90 C131.35,561.83 132.95,558.08 134.20,556.20 C135.45,554.32 136.32,553.95 137.40,553.60 C138.48,553.25 139.43,553.67 140.70,554.10 C141.97,554.53 143.57,553.32 145.00,556.20 C146.43,559.08 147.87,567.62 149.30,571.40 C150.73,575.18 152.15,577.30 153.60,578.90 C155.05,580.50 156.77,580.65 158.00,581.00 C159.23,581.35 160.50,581.00 161.00,581.00" fill="none" stroke="#111" stroke-width="0.8"/>
<line x1="139.6" y1="553.9333333333334" x2="139.6" y2="581.0" stroke="#111" stroke-width="0.8"/>
<path d="M115.80,596.90 C116.70,596.60 119.58,596.12 121.20,595.10 C122.82,594.08 124.05,592.23 125.50,590.80 C126.95,589.37 128.45,589.73 129.90,586.50 C131.35,583.27 132.95,574.35 134.20,571.40 C135.45,568.45 136.13,569.17 137.40,568.80 C138.67,568.43 140.53,568.42 141.80,569.20 C143.07,569.98 143.75,570.62 145.00,573.50 C146.25,576.38 147.87,582.90 149.30,586.50 C150.73,590.10 152.15,593.37 153.60,595.10 C155.05,596.83 156.77,596.60 158.00,596.90 C159.23,597.20 160.50,596.90 161.00,596.90 L161.00,596.90 L115.80,596.90 Z" fill="#5b1f70" stroke="none"/>
<path d="M115.80,596.90 C116.70,596.60 119.58,596.12 121.20,595.10 C122.82,594.08 124.05,592.23 125.50,590.80 C126.95,589.37 128.45,589.73 129.90,586.50 C131.35,583.27 132.95,574.35 134.20,571.40 C135.45,568.45 136.13,569.17 137.40,568.80 C138.67,568.43 140.53,568.42 141.80,569.20 C143.07,569.98 143.75,570.62 145.00,573.50 C146.25,576.38 147.87,582.90 149.30,586.50 C150.73,590.10 152.15,593.37 153.60,595.10 C155.05,596.83 156.77,596.60 158.00,596.90 C159.23,597.20 160.50,596.90 161.00,596.90" fill="none" stroke="#111" stroke-width="0.8"/>
<line x1="139.6" y1="569.0" x2="139.6" y2="596.9" stroke="#111" stroke-width="0.8"/>
<line x1="41.8" y1="521.4" x2="41.8" y2="600.4" stroke="#222" stroke-width="1"/>
<line x1="41.8" y1="600.4" x2="100.0" y2="600.4" stroke="#222" stroke-width="1"/>
<line x1="39.3" y1="549.2" x2="41.8" y2="549.2" stroke="#222" stroke-width="0.8"/>
<line x1="39.3" y1="565.1" x2="41.8" y2="565.1" stroke="#222" stroke-width="0.8"/>
<line x1="39.3" y1="581.0" x2="41.8" y2="581.0" stroke="#222" stroke-width="0.8"/>
<line x1="39.3" y1="596.9" x2="41.8" y2="596.9" stroke="#222" stroke-width="0.8"/>
<line x1="114.1" y1="521.4" x2="114.1" y2="600.4" stroke="#222" stroke-width="1"/>
<line x1="114.1" y1="600.4" x2="162.3" y2="600.4" stroke="#222" stroke-width="1"/>
<line x1="111.6" y1="549.2" x2="114.1" y2="549.2" stroke="#222" stroke-width="0.8"/>
<line x1="111.6" y1="565.1" x2="114.1" y2="565.1" stroke="#222" stroke-width="0.8"/>
<line x1="111.6" y1="581.0" x2="114.1" y2="581.0" stroke="#222" stroke-width="0.8"/>
<line x1="111.6" y1="596.9" x2="114.1" y2="596.9" stroke="#222" stroke-width="0.8"/>
<line x1="50.2" y1="600.4" x2="50.2" y2="602.4" stroke="#222" stroke-width="0.9"/>
<text transform="translate(53.400000000000006,610.4) rotate(-45)" font-size="5.9" text-anchor="end" fill="#333">1.00</text>
<line x1="61.7" y1="600.4" x2="61.7" y2="602.4" stroke="#222" stroke-width="0.9"/>
<text transform="translate(64.9,610.4) rotate(-45)" font-size="5.9" text-anchor="end" fill="#333">1.05</text>
<line x1="73.3" y1="600.4" x2="73.3" y2="602.4" stroke="#222" stroke-width="0.9"/>
<text transform="translate(76.5,610.4) rotate(-45)" font-size="5.9" text-anchor="end" fill="#333">1.10</text>
<line x1="84.9" y1="600.4" x2="84.9" y2="602.4" stroke="#222" stroke-width="0.9"/>
<text transform="translate(88.10000000000001,610.4) rotate(-45)" font-size="5.9" text-anchor="end" fill="#333">1.15</text>
<line x1="96.5" y1="600.4" x2="96.5" y2="602.4" stroke="#222" stroke-width="0.9"/>
<text transform="translate(99.7,610.4) rotate(-45)" font-size="5.9" text-anchor="end" fill="#333">1.20</text>
<line x1="116.2" y1="600.4" x2="116.2" y2="602.4" stroke="#222" stroke-width="0.9"/>
<text transform="translate(119.4,610.4) rotate(-45)" font-size="5.9" text-anchor="end" fill="#333">3.0</text>
<line x1="127.6" y1="600.4" x2="127.6" y2="602.4" stroke="#222" stroke-width="0.9"/>
<text transform="translate(130.79999999999998,610.4) rotate(-45)" font-size="5.9" text-anchor="end" fill="#333">3.3</text>
<line x1="139.0" y1="600.4" x2="139.0" y2="602.4" stroke="#222" stroke-width="0.9"/>
<text transform="translate(142.2,610.4) rotate(-45)" font-size="5.9" text-anchor="end" fill="#333">3.6</text>
<line x1="150.4" y1="600.4" x2="150.4" y2="602.4" stroke="#222" stroke-width="0.9"/>
<text transform="translate(153.6,610.4) rotate(-45)" font-size="5.9" text-anchor="end" fill="#333">3.9</text>
<line x1="161.8" y1="600.4" x2="161.8" y2="602.4" stroke="#222" stroke-width="0.9"/>
<text transform="translate(165.0,610.4) rotate(-45)" font-size="5.9" text-anchor="end" fill="#333">4.2</text>
<text x="71.0" y="628.8" font-size="7.2" text-anchor="middle" font-weight="normal" fill="#333" stroke="#333" stroke-width="0.35" textLength="42" lengthAdjust="spacingAndGlyphs">Gene distribution</text>
<text x="143.1" y="628.8" font-size="7.2" text-anchor="middle" font-weight="normal" fill="#333" stroke="#333" stroke-width="0.35" textLength="41.3" lengthAdjust="spacingAndGlyphs">Gene distribution</text>
<text x="81.0" y="538.3" font-size="5.9" text-anchor="start" font-weight="normal" fill="#333" stroke="#333" stroke-width="0.12"><tspan font-style="italic">P</tspan> = ns</text>
<text x="81.0" y="554.5" font-size="5.9" text-anchor="start" font-weight="normal" fill="#333" stroke="#333" stroke-width="0.12"><tspan font-style="italic">P</tspan> = ns</text>
<text x="81.0" y="570.3" font-size="5.9" text-anchor="start" font-weight="normal" fill="#333" stroke="#333" stroke-width="0.12"><tspan font-style="italic">P</tspan> = ns</text>
<text x="152.1" y="538.9" font-size="5.9" text-anchor="start" font-weight="normal" fill="#333" stroke="#333" stroke-width="0.12"><tspan font-style="italic">P</tspan> = .0184</text>
<text x="152.1" y="555.1" font-size="5.9" text-anchor="start" font-weight="normal" fill="#333" stroke="#333" stroke-width="0.12"><tspan font-style="italic">P</tspan> = ns</text>
<text x="152.1" y="571.4" font-size="5.9" text-anchor="start" font-weight="normal" fill="#333" stroke="#333" stroke-width="0.12"><tspan font-style="italic">P</tspan> = ns</text>
<text x="37.3" y="533.5" font-size="6.2" text-anchor="end" font-weight="normal" fill="#333" stroke="#333" stroke-width="0.12">Csnk1a1<tspan font-size="4.3" dy="-2.3">fl/+</tspan></text>
<text x="37.3" y="540.8" font-size="6.2" text-anchor="end" font-weight="normal" fill="#333" stroke="#333" stroke-width="0.12">Egr1<tspan font-size="4.3" dy="-2.3">&#8211;/&#8211;</tspan></text>
<text x="37.3" y="558.3" font-size="6.2" text-anchor="end" font-weight="normal" fill="#333" stroke="#333" stroke-width="0.12">Egr1<tspan font-size="4.3" dy="-2.3">&#8211;/&#8211;</tspan></text>
<text x="37.3" y="575.0" font-size="6.2" text-anchor="end" font-weight="normal" fill="#333" stroke="#333" stroke-width="0.12">Csnk1a1<tspan font-size="4.3" dy="-2.3">fl/+</tspan></text>
<text x="36.5" y="590.8" font-size="6.2" text-anchor="end" font-weight="normal" fill="#333" stroke="#333" stroke-width="0.12">Mx1Cre</text>
<text x="193.6" y="505.9" font-size="10.5" text-anchor="start" font-weight="bold" fill="#000" stroke="#000" stroke-width="0.45">I</text>
<text x="247.0" y="516.0" font-size="7.8" text-anchor="middle" font-weight="normal" fill="#222222" stroke="#222222" stroke-width="0.12">Cell cycle</text>
<line x1="218.6" y1="521.3" x2="218.6" y2="600.5" stroke="#333333" stroke-width="1"/>
<line x1="216.0" y1="600.5" x2="218.6" y2="600.5" stroke="#333333" stroke-width="1"/>
<text x="212.8" y="602.624" font-size="5.9" text-anchor="end" font-weight="normal" fill="#333333" stroke="#333333" stroke-width="0.12">0</text>
<line x1="216.0" y1="581.9" x2="218.6" y2="581.9" stroke="#333333" stroke-width="1"/>
<text x="212.8" y="584.024" font-size="5.9" text-anchor="end" font-weight="normal" fill="#333333" stroke="#333333" stroke-width="0.12">20</text>
<line x1="216.0" y1="563.3" x2="218.6" y2="563.3" stroke="#333333" stroke-width="1"/>
<text x="212.8" y="565.424" font-size="5.9" text-anchor="end" font-weight="normal" fill="#333333" stroke="#333333" stroke-width="0.12">40</text>
<line x1="216.0" y1="544.7" x2="218.6" y2="544.7" stroke="#333333" stroke-width="1"/>
<text x="212.8" y="546.8240000000001" font-size="5.9" text-anchor="end" font-weight="normal" fill="#333333" stroke="#333333" stroke-width="0.12">60</text>
<line x1="216.0" y1="526.1" x2="218.6" y2="526.1" stroke="#333333" stroke-width="1"/>
<text x="212.8" y="528.224" font-size="5.9" text-anchor="end" font-weight="normal" fill="#333333" stroke="#333333" stroke-width="0.12">80</text>
<text transform="translate(201.2,560.8) rotate(-90) scale(1.0,1)" x="0" y="0" font-size="8.4" text-anchor="middle" font-weight="normal" fill="#333" textLength="25.9" lengthAdjust="spacingAndGlyphs" stroke="#333" stroke-width="0.3">% Of cells</text>
<rect x="219.75" y="599.38" width="2.50" height="1.12" fill="#5b1f70" stroke="none" stroke-width="0"/>
<circle cx="221.00" cy="599.38" r="1.0" fill="#111"/>
<rect x="223.65" y="599.57" width="2.50" height="0.93" fill="#39a93c" stroke="none" stroke-width="0"/>
<circle cx="224.90" cy="599.57" r="1.0" fill="#111"/>
<rect x="228.25" y="599.11" width="2.50" height="1.39" fill="#3ea5de" stroke="none" stroke-width="0"/>
<circle cx="229.50" cy="599.11" r="1.0" fill="#111"/>
<rect x="232.45" y="599.11" width="2.50" height="1.39" fill="#1b4a88" stroke="none" stroke-width="0"/>
<circle cx="233.70" cy="599.11" r="1.0" fill="#111"/>
<rect x="239.35" y="555.86" width="2.50" height="44.64" fill="#5b1f70" stroke="none" stroke-width="0"/>
<circle cx="240.60" cy="555.86" r="1.0" fill="#111"/>
<rect x="243.55" y="567.95" width="2.50" height="32.55" fill="#39a93c" stroke="none" stroke-width="0"/>
<circle cx="244.80" cy="567.95" r="1.0" fill="#111"/>
<rect x="247.85" y="577.81" width="2.50" height="22.69" fill="#3ea5de" stroke="none" stroke-width="0"/>
<circle cx="249.10" cy="577.81" r="1.0" fill="#111"/>
<rect x="251.75" y="564.42" width="2.50" height="36.08" fill="#1b4a88" stroke="none" stroke-width="0"/>
<circle cx="253.00" cy="564.42" r="1.0" fill="#111"/>
<rect x="258.35" y="562.56" width="2.50" height="37.94" fill="#5b1f70" stroke="none" stroke-width="0"/>
<circle cx="259.60" cy="562.56" r="1.0" fill="#111"/>
<rect x="262.65" y="552.23" width="2.50" height="48.27" fill="#39a93c" stroke="none" stroke-width="0"/>
<circle cx="263.90" cy="552.23" r="1.0" fill="#111"/>
<rect x="266.85" y="545.07" width="2.50" height="55.43" fill="#3ea5de" stroke="none" stroke-width="0"/>
<circle cx="268.10" cy="545.07" r="1.0" fill="#111"/>
<rect x="271.15" y="558.09" width="2.50" height="42.41" fill="#1b4a88" stroke="none" stroke-width="0"/>
<circle cx="272.40" cy="558.09" r="1.0" fill="#111"/>
<line x1="218.6" y1="600.5" x2="275.2" y2="600.5" stroke="#333333" stroke-width="1"/>
<line x1="227.4" y1="600.5" x2="227.4" y2="602.3" stroke="#333333" stroke-width="0.8"/>
<line x1="246.7" y1="600.5" x2="246.7" y2="602.3" stroke="#333333" stroke-width="0.8"/>
<line x1="266.0" y1="600.5" x2="266.0" y2="602.3" stroke="#333333" stroke-width="0.8"/>
<text x="227.4" y="611.6" font-size="6.5" text-anchor="middle" font-weight="normal" fill="#333" stroke="#333" stroke-width="0.12">G0</text>
<text x="246.7" y="611.6" font-size="6.5" text-anchor="middle" font-weight="normal" fill="#333" stroke="#333" stroke-width="0.12">G1</text>
<text x="266.4" y="611.6" font-size="6.5" text-anchor="middle" font-weight="normal" fill="#333" textLength="22" lengthAdjust="spacingAndGlyphs" stroke="#333" stroke-width="0.12">S/G2/M</text>
<text x="291.3" y="506.0" font-size="10.5" text-anchor="start" font-weight="bold" fill="#000" stroke="#000" stroke-width="0.45">J</text>
<rect x="356.80" y="490.20" width="9.00" height="4.00" fill="#5b1f70" stroke="none" stroke-width="0"/>
<text x="368.1" y="494.4" font-size="6.1" text-anchor="start" font-weight="normal" fill="#333" stroke="#333" stroke-width="0.12">Mx1-Cre<tspan font-size="4.2" dy="-2.3">+</tspan></text>
<rect x="356.80" y="500.80" width="9.00" height="4.00" fill="#39a93c" stroke="none" stroke-width="0"/>
<text x="368.1" y="505.0" font-size="6.1" text-anchor="start" font-weight="normal" fill="#333" stroke="#333" stroke-width="0.12">Csnk1a1<tspan font-size="4.2" dy="-2.3">fl/+</tspan></text>
<rect x="408.40" y="490.20" width="9.00" height="4.00" fill="#3ea5de" stroke="none" stroke-width="0"/>
<text x="419.7" y="494.4" font-size="6.1" text-anchor="start" font-weight="normal" fill="#333" stroke="#333" stroke-width="0.12">Egr1<tspan font-size="4.2" dy="-2.3">&#8211;/&#8211;</tspan></text>
<rect x="408.40" y="500.80" width="9.00" height="4.00" fill="#1b4a88" stroke="none" stroke-width="0"/>
<text x="419.7" y="505.0" font-size="6.1" text-anchor="start" font-weight="normal" fill="#333" stroke="#333" stroke-width="0.12">Csnk1a1<tspan font-size="4.2" dy="-2.3">fl/+</tspan><tspan dy="2.3"> Egr1</tspan><tspan font-size="4.2" dy="-2.3">&#8211;/&#8211;</tspan></text>
<text x="359.9" y="515.9" font-size="7.9" text-anchor="middle" font-weight="normal" fill="#222222" stroke="#222222" stroke-width="0.12">PBS-treated</text>
<text x="474.2" y="515.9" font-size="7.9" text-anchor="middle" font-weight="normal" fill="#222222" stroke="#222222" stroke-width="0.12">IFN-treated</text>
<line x1="319.6" y1="522.6" x2="319.6" y2="600.8" stroke="#333333" stroke-width="1"/>
<line x1="317.0" y1="600.8" x2="319.6" y2="600.8" stroke="#333333" stroke-width="1"/>
<text x="313.8" y="602.924" font-size="5.9" text-anchor="end" font-weight="normal" fill="#333333" stroke="#333333" stroke-width="0.12">0</text>
<line x1="317.0" y1="585.4399999999999" x2="319.6" y2="585.4399999999999" stroke="#333333" stroke-width="1"/>
<text x="313.8" y="587.564" font-size="5.9" text-anchor="end" font-weight="normal" fill="#333333" stroke="#333333" stroke-width="0.12">20</text>
<line x1="317.0" y1="570.0799999999999" x2="319.6" y2="570.0799999999999" stroke="#333333" stroke-width="1"/>
<text x="313.8" y="572.204" font-size="5.9" text-anchor="end" font-weight="normal" fill="#333333" stroke="#333333" stroke-width="0.12">40</text>
<line x1="317.0" y1="554.7199999999999" x2="319.6" y2="554.7199999999999" stroke="#333333" stroke-width="1"/>
<text x="313.8" y="556.8439999999999" font-size="5.9" text-anchor="end" font-weight="normal" fill="#333333" stroke="#333333" stroke-width="0.12">60</text>
<line x1="317.0" y1="539.3599999999999" x2="319.6" y2="539.3599999999999" stroke="#333333" stroke-width="1"/>
<text x="313.8" y="541.4839999999999" font-size="5.9" text-anchor="end" font-weight="normal" fill="#333333" stroke="#333333" stroke-width="0.12">80</text>
<line x1="317.0" y1="524.0" x2="319.6" y2="524.0" stroke="#333333" stroke-width="1"/>
<text x="313.8" y="526.124" font-size="5.9" text-anchor="end" font-weight="normal" fill="#333333" stroke="#333333" stroke-width="0.12">100</text>
<line x1="319.6" y1="600.8" x2="398.6" y2="600.8" stroke="#333333" stroke-width="1"/>
<line x1="330.0" y1="600.8" x2="330.0" y2="602.8" stroke="#333333" stroke-width="0.8"/>
<text x="330.0" y="611.7" font-size="6.2" text-anchor="middle" font-weight="normal" fill="#333" stroke="#333" stroke-width="0.12">0</text>
<line x1="349.3" y1="600.8" x2="349.3" y2="602.8" stroke="#333333" stroke-width="0.8"/>
<text x="349.3" y="611.7" font-size="6.2" text-anchor="middle" font-weight="normal" fill="#333" stroke="#333" stroke-width="0.12">2</text>
<line x1="368.6" y1="600.8" x2="368.6" y2="602.8" stroke="#333333" stroke-width="0.8"/>
<text x="368.6" y="611.7" font-size="6.2" text-anchor="middle" font-weight="normal" fill="#333" stroke="#333" stroke-width="0.12">4</text>
<line x1="387.7" y1="600.8" x2="387.7" y2="602.8" stroke="#333333" stroke-width="0.8"/>
<text x="387.7" y="611.7" font-size="6.2" text-anchor="middle" font-weight="normal" fill="#333" stroke="#333" stroke-width="0.12">6</text>
<text x="359.15000000000003" y="622.7" font-size="7.7" text-anchor="middle" font-weight="normal" fill="#333" stroke="#333" stroke-width="0.3" textLength="11.8" lengthAdjust="spacingAndGlyphs">Days</text>
<text transform="translate(298.20000000000005,561.0) rotate(-90) scale(1.0,1)" x="0" y="0" font-size="6.8" text-anchor="middle" font-weight="normal" fill="#333" textLength="71.5" lengthAdjust="spacingAndGlyphs" stroke="#333" stroke-width="0.3">% Competing cells/ Mx1-Cre</text>
<polyline points="330.0,559.3 349.3,561.6 368.6,565.1 387.7,566.2" fill="none" stroke="#5b1f70" stroke-width="1.05"/>
<circle cx="330.00" cy="559.33" r="1.9" fill="#5b1f70"/>
<circle cx="349.30" cy="561.63" r="1.9" fill="#5b1f70"/>
<circle cx="368.60" cy="565.09" r="1.9" fill="#5b1f70"/>
<circle cx="387.70" cy="566.24" r="1.9" fill="#5b1f70"/>
<polyline points="330.0,562.9 349.3,564.9 368.6,567.6 387.7,567.0" fill="none" stroke="#1b4a88" stroke-width="1.05"/>
<circle cx="330.00" cy="562.94" r="1.9" fill="#1b4a88"/>
<circle cx="349.30" cy="564.93" r="1.9" fill="#1b4a88"/>
<circle cx="368.60" cy="567.62" r="1.9" fill="#1b4a88"/>
<circle cx="387.70" cy="567.01" r="1.9" fill="#1b4a88"/>
<polyline points="330.0,560.9 349.3,557.2 368.6,556.7 387.7,553.0" fill="none" stroke="#3ea5de" stroke-width="1.05"/>
<circle cx="330.00" cy="560.86" r="1.9" fill="#3ea5de"/>
<circle cx="349.30" cy="557.18" r="1.9" fill="#3ea5de"/>
<circle cx="368.60" cy="556.72" r="1.9" fill="#3ea5de"/>
<circle cx="387.70" cy="553.03" r="1.9" fill="#3ea5de"/>
<polyline points="330.0,560.4 349.3,554.7 368.6,548.6 387.7,542.6" fill="none" stroke="#39a93c" stroke-width="1.05"/>
<circle cx="330.00" cy="560.40" r="1.9" fill="#39a93c"/>
<circle cx="349.30" cy="554.72" r="1.9" fill="#39a93c"/>
<circle cx="368.60" cy="548.58" r="1.9" fill="#39a93c"/>
<circle cx="387.70" cy="542.59" r="1.9" fill="#39a93c"/>
<line x1="434.6" y1="522.6" x2="434.6" y2="600.8" stroke="#333333" stroke-width="1"/>
<line x1="432.0" y1="600.8" x2="434.6" y2="600.8" stroke="#333333" stroke-width="1"/>
<text x="428.8" y="602.924" font-size="5.9" text-anchor="end" font-weight="normal" fill="#333333" stroke="#333333" stroke-width="0.12">0</text>
<line x1="432.0" y1="585.4399999999999" x2="434.6" y2="585.4399999999999" stroke="#333333" stroke-width="1"/>
<text x="428.8" y="587.564" font-size="5.9" text-anchor="end" font-weight="normal" fill="#333333" stroke="#333333" stroke-width="0.12">20</text>
<line x1="432.0" y1="570.0799999999999" x2="434.6" y2="570.0799999999999" stroke="#333333" stroke-width="1"/>
<text x="428.8" y="572.204" font-size="5.9" text-anchor="end" font-weight="normal" fill="#333333" stroke="#333333" stroke-width="0.12">40</text>
<line x1="432.0" y1="554.7199999999999" x2="434.6" y2="554.7199999999999" stroke="#333333" stroke-width="1"/>
<text x="428.8" y="556.8439999999999" font-size="5.9" text-anchor="end" font-weight="normal" fill="#333333" stroke="#333333" stroke-width="0.12">60</text>
<line x1="432.0" y1="539.3599999999999" x2="434.6" y2="539.3599999999999" stroke="#333333" stroke-width="1"/>
<text x="428.8" y="541.4839999999999" font-size="5.9" text-anchor="end" font-weight="normal" fill="#333333" stroke="#333333" stroke-width="0.12">80</text>
<line x1="432.0" y1="524.0" x2="434.6" y2="524.0" stroke="#333333" stroke-width="1"/>
<text x="428.8" y="526.124" font-size="5.9" text-anchor="end" font-weight="normal" fill="#333333" stroke="#333333" stroke-width="0.12">100</text>
<line x1="434.6" y1="600.8" x2="513.6" y2="600.8" stroke="#333333" stroke-width="1"/>
<line x1="445.2" y1="600.8" x2="445.2" y2="602.8" stroke="#333333" stroke-width="0.8"/>
<text x="445.2" y="611.7" font-size="6.2" text-anchor="middle" font-weight="normal" fill="#333" stroke="#333" stroke-width="0.12">0</text>
<line x1="464.3" y1="600.8" x2="464.3" y2="602.8" stroke="#333333" stroke-width="0.8"/>
<text x="464.3" y="611.7" font-size="6.2" text-anchor="middle" font-weight="normal" fill="#333" stroke="#333" stroke-width="0.12">2</text>
<line x1="483.6" y1="600.8" x2="483.6" y2="602.8" stroke="#333333" stroke-width="0.8"/>
<text x="483.6" y="611.7" font-size="6.2" text-anchor="middle" font-weight="normal" fill="#333" stroke="#333" stroke-width="0.12">4</text>
<line x1="502.7" y1="600.8" x2="502.7" y2="602.8" stroke="#333333" stroke-width="0.8"/>
<text x="502.7" y="611.7" font-size="6.2" text-anchor="middle" font-weight="normal" fill="#333" stroke="#333" stroke-width="0.12">6</text>
<text x="474.25" y="622.7" font-size="7.7" text-anchor="middle" font-weight="normal" fill="#333" stroke="#333" stroke-width="0.3" textLength="11.8" lengthAdjust="spacingAndGlyphs">Days</text>
<text transform="translate(413.20000000000005,561.0) rotate(-90) scale(1.0,1)" x="0" y="0" font-size="6.8" text-anchor="middle" font-weight="normal" fill="#333" textLength="71.5" lengthAdjust="spacingAndGlyphs" stroke="#333" stroke-width="0.3">% Competing cells/ Mx1-Cre</text>
<polyline points="445.2,560.1 464.3,564.2 483.6,566.2 502.7,566.6" fill="none" stroke="#5b1f70" stroke-width="1.05"/>
<circle cx="445.20" cy="560.10" r="1.9" fill="#5b1f70"/>
<circle cx="464.30" cy="564.24" r="1.9" fill="#5b1f70"/>
<circle cx="483.60" cy="566.16" r="1.9" fill="#5b1f70"/>
<circle cx="502.70" cy="566.62" r="1.9" fill="#5b1f70"/>
<polyline points="445.2,561.2 464.3,553.8 483.6,549.3 502.7,544.4" fill="none" stroke="#39a93c" stroke-width="1.05"/>
<circle cx="445.20" cy="561.25" r="1.9" fill="#39a93c"/>
<circle cx="464.30" cy="553.80" r="1.9" fill="#39a93c"/>
<circle cx="483.60" cy="549.34" r="1.9" fill="#39a93c"/>
<circle cx="502.70" cy="544.43" r="1.9" fill="#39a93c"/>
<polyline points="445.2,562.4 464.3,554.7 483.6,546.1 502.7,536.3" fill="none" stroke="#1b4a88" stroke-width="1.05"/>
<circle cx="445.20" cy="562.40" r="1.9" fill="#1b4a88"/>
<circle cx="464.30" cy="554.72" r="1.9" fill="#1b4a88"/>
<circle cx="483.60" cy="546.12" r="1.9" fill="#1b4a88"/>
<circle cx="502.70" cy="536.29" r="1.9" fill="#1b4a88"/>
<polyline points="445.2,562.4 464.3,546.1 483.6,532.7 502.7,527.8" fill="none" stroke="#3ea5de" stroke-width="1.05"/>
<circle cx="445.20" cy="562.40" r="1.9" fill="#3ea5de"/>
<circle cx="464.30" cy="546.12" r="1.9" fill="#3ea5de"/>
<circle cx="483.60" cy="532.68" r="1.9" fill="#3ea5de"/>
<circle cx="502.70" cy="527.84" r="1.9" fill="#3ea5de"/>
<rect x="0.5" y="0.5" width="519" height="637" fill="none" stroke="#555" stroke-width="1"/>
</svg>
</body></html>
